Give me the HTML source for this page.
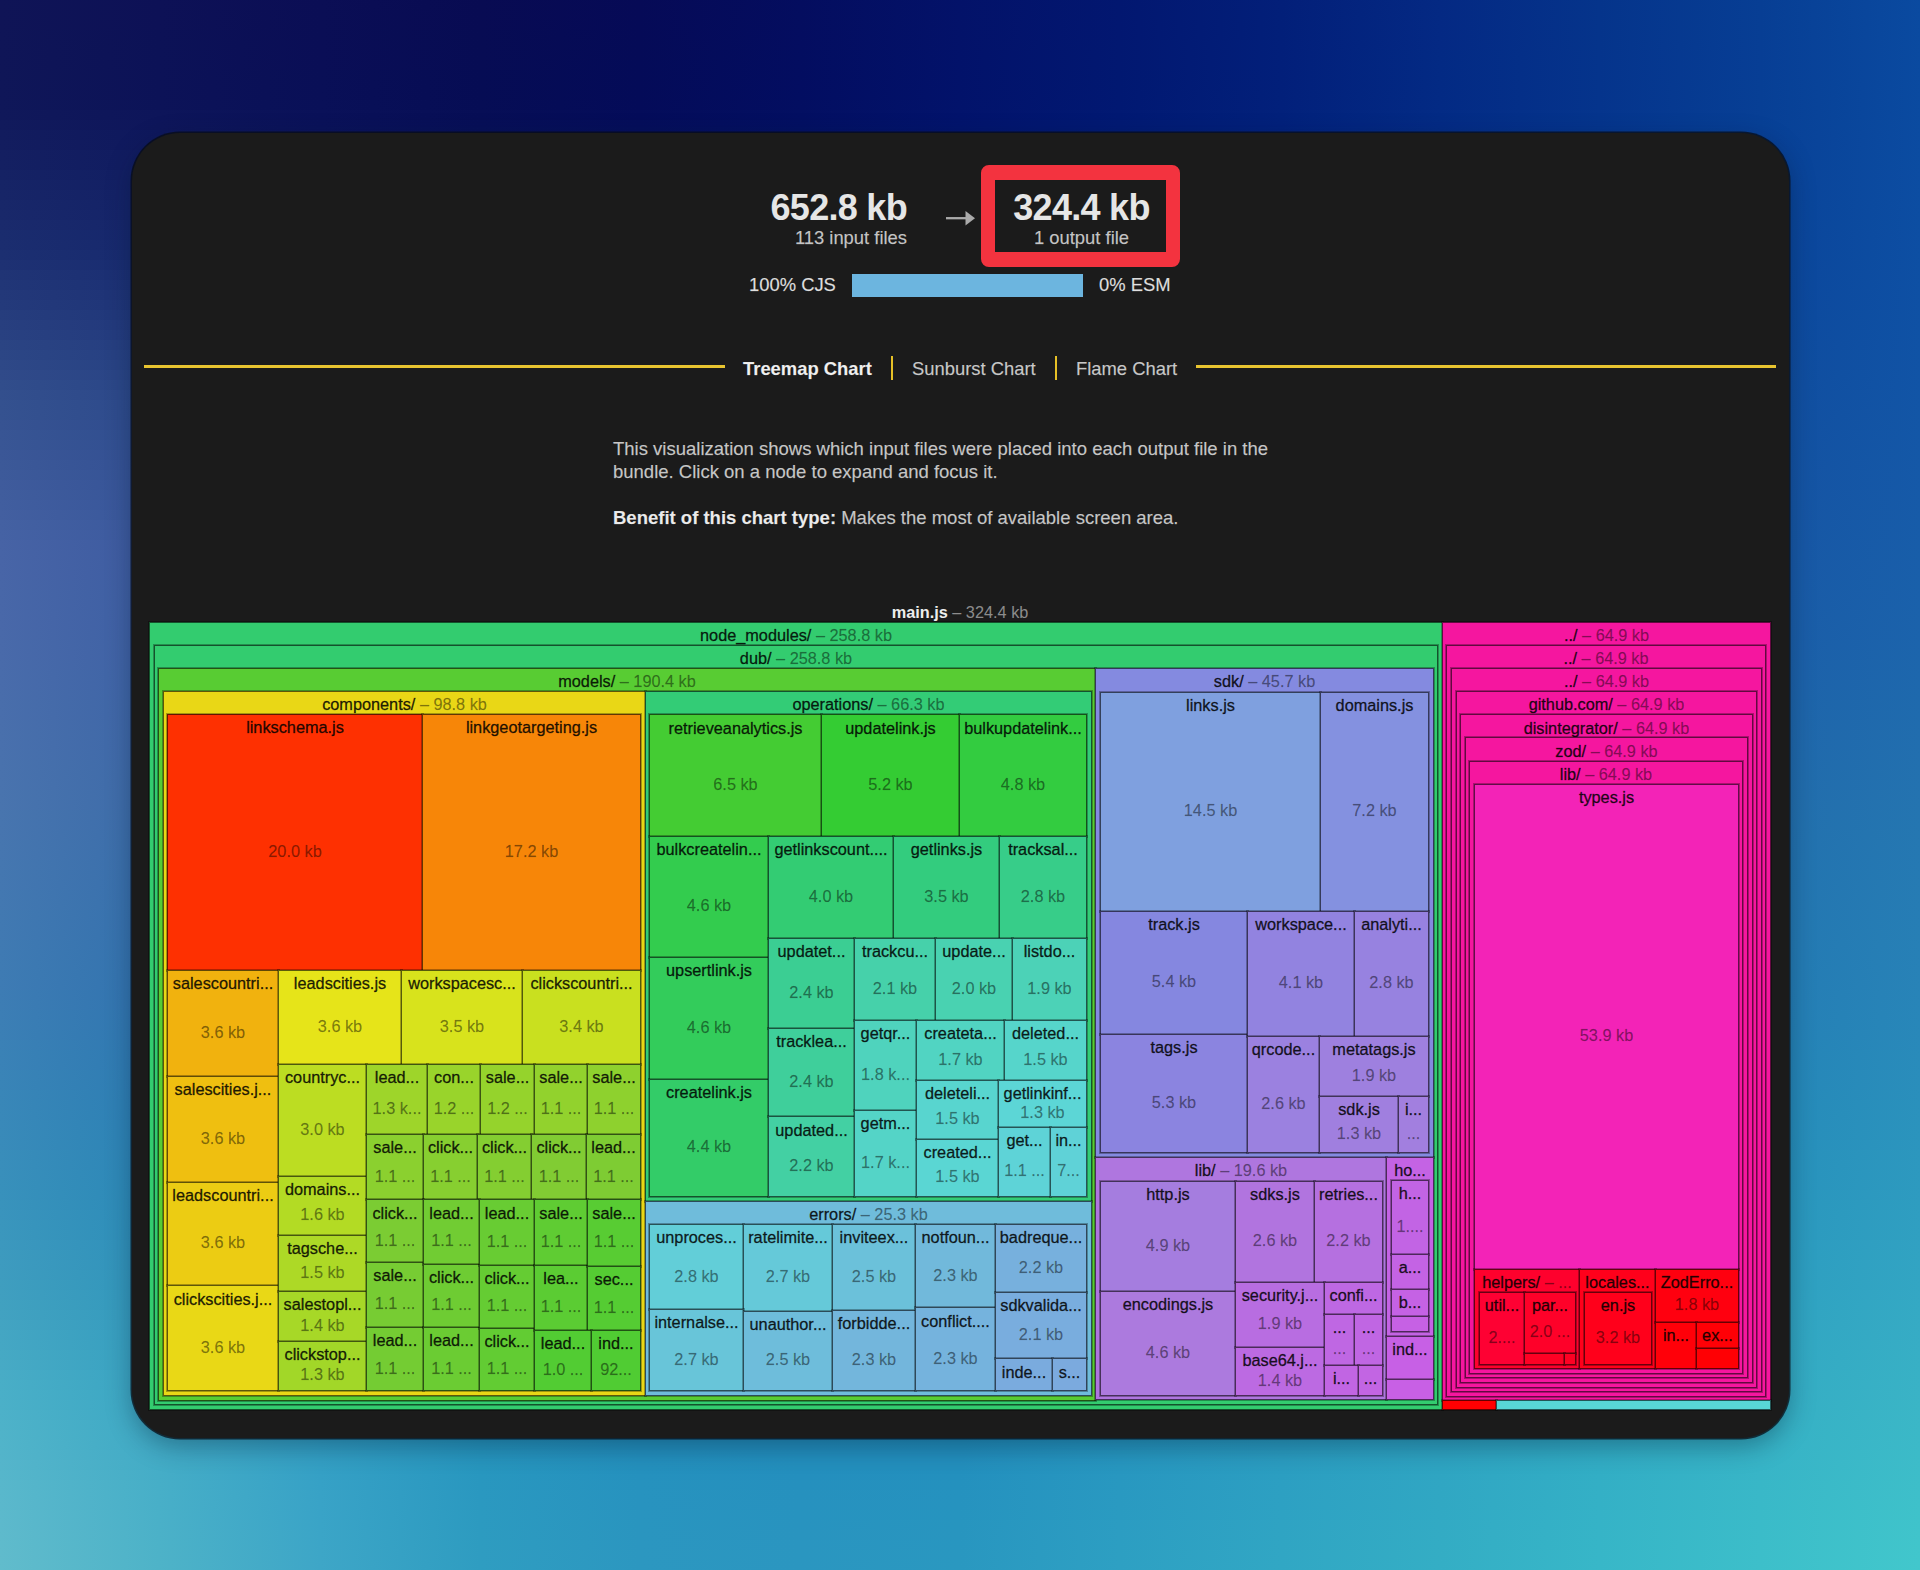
<!DOCTYPE html>
<html>
<head>
<meta charset="utf-8">
<title>esbuild Bundle Size Analyzer</title>
<style>
html,body{margin:0;padding:0}
body{width:1920px;height:1570px;position:relative;overflow:hidden;font-family:"Liberation Sans",Arial,sans-serif;background:#2a6aa8}
.bg div{position:absolute;left:0;width:1920px;height:10px}
.card{position:absolute;left:132px;top:133px;width:1657px;height:1305px;background:#1b1b1b;border-radius:48px;
 box-shadow:0 0 0 1.5px rgba(8,12,20,0.75),0 8px 26px rgba(0,20,40,0.35)}
.t{position:absolute;white-space:nowrap;line-height:1}
.big{font-weight:bold;font-size:36px;letter-spacing:-0.7px;color:#e6e6e6}
.sub{font-size:18.4px;color:#c4c4c4;-webkit-text-stroke:0.25px rgba(196,196,196,0.6)}
.redbox{position:absolute;left:981.3px;top:165.2px;width:170.6px;height:72.3px;border-style:solid;border-color:#f3333f;border-width:15px 14.5px 15.5px 14.5px;border-radius:8px}
.bar{position:absolute;left:852px;top:274px;width:231px;height:23px;background:#6cb5df}
.line{position:absolute;height:2.5px;background:#e8c430;top:365.4px}
.sep{position:absolute;width:2.5px;background:#e6c026;top:355.5px;height:24px}
.tab{font-size:18.4px;color:#c8c8c8;-webkit-text-stroke:0.25px rgba(200,200,200,0.6)}
.desc{font-size:18.5px;color:#c6c6c6;-webkit-text-stroke:0.25px rgba(198,198,198,0.6)}
.n{position:absolute;box-sizing:border-box;border:1px solid;box-shadow:0 0 0 1px rgba(0,0,0,0.3)}
.n b{position:absolute;left:0;right:0;text-align:center;white-space:nowrap;font-weight:normal;font-size:16.3px;line-height:19px;color:rgba(0,0,0,0.86);-webkit-text-stroke:0.45px rgba(0,0,0,0.55)}
.n b.s,.n i{color:rgba(0,0,0,0.45);font-style:normal;-webkit-text-stroke:0.35px rgba(0,0,0,0.22)}
.root{position:absolute;left:150px;width:1620px;top:603px;text-align:center;font-size:16.3px;line-height:19px;white-space:nowrap}
</style>
</head>
<body>
<div class="bg">
<div style="top:0px;background:linear-gradient(90deg,#0f1456 0.0%,#0d1156 8.3%,#0b0e55 16.7%,#080b52 25.0%,#060a56 33.3%,#040d5f 41.7%,#031269 50.0%,#021770 58.3%,#031f79 66.7%,#042983 75.0%,#05348b 83.3%,#073e94 91.7%,#0a4aa0 100.0%)"></div>
<div style="top:10px;background:linear-gradient(90deg,#0f1456 0.0%,#0d1156 8.3%,#0a0e55 16.7%,#080b53 25.0%,#060a57 33.3%,#040d5f 41.7%,#031269 50.0%,#021770 58.3%,#021f79 66.7%,#042983 75.0%,#05348b 83.3%,#073e94 91.7%,#0a4aa0 100.0%)"></div>
<div style="top:20px;background:linear-gradient(90deg,#0f1456 0.0%,#0d1156 8.3%,#0a0e55 16.7%,#080b53 25.0%,#050a57 33.3%,#040d5f 41.7%,#031269 50.0%,#021771 58.3%,#021f79 66.7%,#042984 75.0%,#05348b 83.3%,#073e94 91.7%,#0a4aa0 100.0%)"></div>
<div style="top:30px;background:linear-gradient(90deg,#0f1557 0.0%,#0c1156 8.3%,#0a0e55 16.7%,#070c53 25.0%,#050a57 33.3%,#040d60 41.7%,#031269 50.0%,#021771 58.3%,#021f79 66.7%,#042984 75.0%,#05348b 83.3%,#073e94 91.7%,#0a4aa0 100.0%)"></div>
<div style="top:40px;background:linear-gradient(90deg,#0f1557 0.0%,#0c1256 8.3%,#0a0e56 16.7%,#070c53 25.0%,#050b57 33.3%,#040d60 41.7%,#031269 50.0%,#021871 58.3%,#021f7a 66.7%,#042984 75.0%,#05348b 83.3%,#073e95 91.7%,#0a4aa0 100.0%)"></div>
<div style="top:50px;background:linear-gradient(90deg,#0f1557 0.0%,#0c1257 8.3%,#0a0e56 16.7%,#070c54 25.0%,#050b57 33.3%,#030d60 41.7%,#02126a 50.0%,#021871 58.3%,#021f7a 66.7%,#032a84 75.0%,#05348c 83.3%,#073e95 91.7%,#0a4aa0 100.0%)"></div>
<div style="top:60px;background:linear-gradient(90deg,#0f1557 0.0%,#0c1257 8.3%,#0a0e56 16.7%,#070c54 25.0%,#040b58 33.3%,#030d60 41.7%,#02126a 50.0%,#021871 58.3%,#021f7a 66.7%,#032a84 75.0%,#05348c 83.3%,#073e95 91.7%,#0a4aa0 100.0%)"></div>
<div style="top:70px;background:linear-gradient(90deg,#0f1657 0.0%,#0c1257 8.3%,#090f56 16.7%,#060c54 25.0%,#040b58 33.3%,#030d60 41.7%,#02126a 50.0%,#011871 58.3%,#021f7a 66.7%,#032a84 75.0%,#05348c 83.3%,#073e95 91.7%,#0a4aa0 100.0%)"></div>
<div style="top:80px;background:linear-gradient(90deg,#0f1658 0.0%,#0c1257 8.3%,#090f57 16.7%,#060c54 25.0%,#040b58 33.3%,#030d61 41.7%,#02126a 50.0%,#011871 58.3%,#021f7a 66.7%,#032a84 75.0%,#05348c 83.3%,#073f95 91.7%,#0a4aa0 100.0%)"></div>
<div style="top:90px;background:linear-gradient(90deg,#0f1658 0.0%,#0c1257 8.3%,#090f57 16.7%,#060c54 25.0%,#040b58 33.3%,#020d61 41.7%,#02126a 50.0%,#011872 58.3%,#02207a 66.7%,#032a84 75.0%,#05348c 83.3%,#073f95 91.7%,#0a4aa0 100.0%)"></div>
<div style="top:100px;background:linear-gradient(90deg,#0f1759 0.0%,#0c1358 8.3%,#091058 16.7%,#060d55 25.0%,#040b59 33.3%,#030e61 41.7%,#02136b 50.0%,#011872 58.3%,#02207b 66.7%,#032a84 75.0%,#05348c 83.3%,#073f95 91.7%,#0a4aa0 100.0%)"></div>
<div style="top:110px;background:linear-gradient(90deg,#10185a 0.0%,#0d155a 8.3%,#0a1159 16.7%,#070e56 25.0%,#040c5a 33.3%,#030f62 41.7%,#02136c 50.0%,#011973 58.3%,#02217b 66.7%,#032b85 75.0%,#05358d 83.3%,#073f95 91.7%,#0a4aa0 100.0%)"></div>
<div style="top:120px;background:linear-gradient(90deg,#111a5c 0.0%,#0e165b 8.3%,#0a125a 16.7%,#070f58 25.0%,#050e5b 33.3%,#031063 41.7%,#02146d 50.0%,#021a74 58.3%,#02217c 66.7%,#042b85 75.0%,#05358d 83.3%,#074096 91.7%,#0b4ba0 100.0%)"></div>
<div style="top:130px;background:linear-gradient(90deg,#121c5e 0.0%,#0e185d 8.3%,#0b145c 16.7%,#071059 25.0%,#050f5d 33.3%,#041165 41.7%,#03156d 50.0%,#021b74 58.3%,#03227d 66.7%,#042c86 75.0%,#05368d 83.3%,#084096 91.7%,#0b4ba1 100.0%)"></div>
<div style="top:140px;background:linear-gradient(90deg,#131d5f 0.0%,#0f195e 8.3%,#0b155d 16.7%,#08115a 25.0%,#05105e 33.3%,#041266 41.7%,#03166e 50.0%,#021b75 58.3%,#03237d 66.7%,#042c87 75.0%,#06368e 83.3%,#084096 91.7%,#0b4ba1 100.0%)"></div>
<div style="top:150px;background:linear-gradient(90deg,#141f61 0.0%,#101b60 8.3%,#0c165f 16.7%,#08135c 25.0%,#06115f 33.3%,#041367 41.7%,#03176f 50.0%,#031c76 58.3%,#03237e 66.7%,#052d87 75.0%,#06378e 83.3%,#084197 91.7%,#0b4ca1 100.0%)"></div>
<div style="top:160px;background:linear-gradient(90deg,#142062 0.0%,#101c61 8.3%,#0d1860 16.7%,#09145d 25.0%,#061260 33.3%,#051468 41.7%,#041870 50.0%,#031d77 58.3%,#03247f 66.7%,#052e88 75.0%,#06378f 83.3%,#084197 91.7%,#0b4ca1 100.0%)"></div>
<div style="top:170px;background:linear-gradient(90deg,#152264 0.0%,#111e63 8.3%,#0d1962 16.7%,#09155e 25.0%,#071361 33.3%,#051569 41.7%,#041971 50.0%,#031e78 58.3%,#04257f 66.7%,#052e88 75.0%,#06388f 83.3%,#094297 91.7%,#0c4ca2 100.0%)"></div>
<div style="top:180px;background:linear-gradient(90deg,#162466 0.0%,#121f64 8.3%,#0e1a63 16.7%,#0a1660 25.0%,#071463 33.3%,#05166a 41.7%,#041a72 50.0%,#041f79 58.3%,#042680 66.7%,#052f89 75.0%,#073890 83.3%,#094298 91.7%,#0c4da2 100.0%)"></div>
<div style="top:190px;background:linear-gradient(90deg,#172567 0.0%,#132166 8.3%,#0e1c64 16.7%,#0a1761 25.0%,#071564 33.3%,#06176b 41.7%,#051a73 50.0%,#041f79 58.3%,#042681 66.7%,#062f89 75.0%,#073990 83.3%,#094298 91.7%,#0c4da2 100.0%)"></div>
<div style="top:200px;background:linear-gradient(90deg,#182769 0.0%,#132267 8.3%,#0f1d66 16.7%,#0b1962 25.0%,#081665 33.3%,#06186c 41.7%,#051b74 50.0%,#04207a 58.3%,#052782 66.7%,#06308a 75.0%,#073991 83.3%,#094398 91.7%,#0c4da2 100.0%)"></div>
<div style="top:210px;background:linear-gradient(90deg,#19286a 0.0%,#142369 8.3%,#0f1e67 16.7%,#0b1a64 25.0%,#081766 33.3%,#07196d 41.7%,#051c75 50.0%,#05217b 58.3%,#052882 66.7%,#06318b 75.0%,#073a91 83.3%,#094399 91.7%,#0c4da2 100.0%)"></div>
<div style="top:220px;background:linear-gradient(90deg,#1a2a6c 0.0%,#15256a 8.3%,#102069 16.7%,#0c1b65 25.0%,#091867 33.3%,#071a6e 41.7%,#061d76 50.0%,#05227c 58.3%,#052883 66.7%,#06318b 75.0%,#083a92 83.3%,#0a4499 91.7%,#0c4ea2 100.0%)"></div>
<div style="top:230px;background:linear-gradient(90deg,#1a2c6e 0.0%,#15266c 8.3%,#11216a 16.7%,#0c1c66 25.0%,#091a69 33.3%,#071b6f 41.7%,#061e77 50.0%,#05237d 58.3%,#062984 66.7%,#07328c 75.0%,#083b92 83.3%,#0a4499 91.7%,#0d4ea3 100.0%)"></div>
<div style="top:240px;background:linear-gradient(90deg,#1b2d6f 0.0%,#16286d 8.3%,#11226c 16.7%,#0c1d68 25.0%,#0a1b6a 33.3%,#081c70 41.7%,#061f78 50.0%,#06237e 58.3%,#062a84 66.7%,#07328c 75.0%,#083b93 83.3%,#0a449a 91.7%,#0d4ea3 100.0%)"></div>
<div style="top:250px;background:linear-gradient(90deg,#1c2f71 0.0%,#172a6f 8.3%,#12246d 16.7%,#0d1f69 25.0%,#0a1c6b 33.3%,#081d72 41.7%,#072079 50.0%,#06247f 58.3%,#062b85 66.7%,#07338d 75.0%,#083c93 83.3%,#0a459a 91.7%,#0d4fa3 100.0%)"></div>
<div style="top:260px;background:linear-gradient(90deg,#1e3173 0.0%,#182c71 8.3%,#13266f 16.7%,#0e216b 25.0%,#0b1d6d 33.3%,#091e73 41.7%,#08217a 50.0%,#072580 58.3%,#072c86 66.7%,#08348e 75.0%,#093d94 83.3%,#0b459a 91.7%,#0d4fa3 100.0%)"></div>
<div style="top:270px;background:linear-gradient(90deg,#203475 0.0%,#1a2e73 8.3%,#142871 16.7%,#0f226c 25.0%,#0c1f6e 33.3%,#0a1f74 41.7%,#08227b 50.0%,#072681 58.3%,#072c87 66.7%,#08358e 75.0%,#093d94 83.3%,#0b469b 91.7%,#0e4fa3 100.0%)"></div>
<div style="top:280px;background:linear-gradient(90deg,#213677 0.0%,#1b3075 8.3%,#162972 16.7%,#10246e 25.0%,#0d2170 33.3%,#0b2176 41.7%,#09237c 50.0%,#082782 58.3%,#082d88 66.7%,#09358f 75.0%,#0a3e95 83.3%,#0b469b 91.7%,#0e50a4 100.0%)"></div>
<div style="top:290px;background:linear-gradient(90deg,#233879 0.0%,#1d3276 8.3%,#172b74 16.7%,#112670 25.0%,#0e2271 33.3%,#0b2277 41.7%,#0a257d 50.0%,#092983 58.3%,#082e89 66.7%,#093690 75.0%,#0a3e95 83.3%,#0c479c 91.7%,#0e50a4 100.0%)"></div>
<div style="top:300px;background:linear-gradient(90deg,#243a7b 0.0%,#1e3478 8.3%,#182d76 16.7%,#122771 25.0%,#0f2473 33.3%,#0c2478 41.7%,#0a267f 50.0%,#092a84 58.3%,#092f89 66.7%,#0a3790 75.0%,#0a3f96 83.3%,#0c479c 91.7%,#0e50a4 100.0%)"></div>
<div style="top:310px;background:linear-gradient(90deg,#263d7d 0.0%,#1f367a 8.3%,#192f78 16.7%,#132973 25.0%,#102574 33.3%,#0d257a 41.7%,#0b2780 50.0%,#0a2b85 58.3%,#0a308a 66.7%,#0a3891 75.0%,#0b4096 83.3%,#0c489c 91.7%,#0f51a4 100.0%)"></div>
<div style="top:320px;background:linear-gradient(90deg,#283f7f 0.0%,#21387c 8.3%,#1a3179 16.7%,#142b74 25.0%,#112776 33.3%,#0e267b 41.7%,#0c2881 50.0%,#0b2c86 58.3%,#0a318b 66.7%,#0b3992 75.0%,#0b4197 83.3%,#0d499d 91.7%,#0f51a4 100.0%)"></div>
<div style="top:330px;background:linear-gradient(90deg,#294181 0.0%,#223a7e 8.3%,#1c337b 16.7%,#152d76 25.0%,#122877 33.3%,#0f287c 41.7%,#0d2a82 50.0%,#0c2d87 58.3%,#0b338c 66.7%,#0c3a92 75.0%,#0c4197 83.3%,#0d499d 91.7%,#0f52a5 100.0%)"></div>
<div style="top:340px;background:linear-gradient(90deg,#2b4483 0.0%,#243d80 8.3%,#1d357d 16.7%,#162e78 25.0%,#132a79 33.3%,#10297d 41.7%,#0e2b83 50.0%,#0c2e88 58.3%,#0c348d 66.7%,#0c3b93 75.0%,#0d4298 83.3%,#0e4a9d 91.7%,#1052a5 100.0%)"></div>
<div style="top:350px;background:linear-gradient(90deg,#2c4685 0.0%,#253f82 8.3%,#1e377f 16.7%,#183079 25.0%,#142c7a 33.3%,#112b7f 41.7%,#0e2c84 50.0%,#0d3089 58.3%,#0c358e 66.7%,#0d3c94 75.0%,#0d4398 83.3%,#0e4b9e 91.7%,#1053a5 100.0%)"></div>
<div style="top:360px;background:linear-gradient(90deg,#2e4887 0.0%,#264183 8.3%,#1f3980 16.7%,#19327b 25.0%,#152d7c 33.3%,#122c80 41.7%,#0f2e85 50.0%,#0e318a 58.3%,#0d368e 66.7%,#0d3d94 75.0%,#0e4499 83.3%,#0f4b9e 91.7%,#1153a5 100.0%)"></div>
<div style="top:370px;background:linear-gradient(90deg,#304a89 0.0%,#284385 8.3%,#213b82 16.7%,#1a347d 25.0%,#152f7d 33.3%,#132e81 41.7%,#102f87 50.0%,#0e328b 58.3%,#0e378f 66.7%,#0e3d95 75.0%,#0e4599 83.3%,#0f4c9e 91.7%,#1154a6 100.0%)"></div>
<div style="top:380px;background:linear-gradient(90deg,#314d8b 0.0%,#294587 8.3%,#223d84 16.7%,#1b357e 25.0%,#16307e 33.3%,#132f83 41.7%,#113088 50.0%,#0f338c 58.3%,#0f3890 66.7%,#0f3e96 75.0%,#0f459a 83.3%,#104d9f 91.7%,#1154a6 100.0%)"></div>
<div style="top:390px;background:linear-gradient(90deg,#334f8d 0.0%,#2b4789 8.3%,#233f86 16.7%,#1c3780 25.0%,#173280 33.3%,#143184 41.7%,#123289 50.0%,#10348d 58.3%,#0f3991 66.7%,#0f3f96 75.0%,#0f469a 83.3%,#104d9f 91.7%,#1255a6 100.0%)"></div>
<div style="top:400px;background:linear-gradient(90deg,#34518f 0.0%,#2c498b 8.3%,#244087 16.7%,#1d3981 25.0%,#183381 33.3%,#153285 41.7%,#12338a 50.0%,#11358d 58.3%,#103a92 66.7%,#104097 75.0%,#10479b 83.3%,#114ea0 91.7%,#1255a6 100.0%)"></div>
<div style="top:410px;background:linear-gradient(90deg,#355290 0.0%,#2d4a8c 8.3%,#254189 16.7%,#1e3a83 25.0%,#193483 33.3%,#163386 41.7%,#13338b 50.0%,#11368e 58.3%,#103b92 66.7%,#104197 75.0%,#10489b 83.3%,#114ea0 91.7%,#1356a6 100.0%)"></div>
<div style="top:420px;background:linear-gradient(90deg,#375392 0.0%,#2e4b8e 8.3%,#26428a 16.7%,#1e3b84 25.0%,#1a3584 33.3%,#173487 41.7%,#14348c 50.0%,#12378f 58.3%,#113b93 66.7%,#114198 75.0%,#11489c 83.3%,#114fa0 91.7%,#1356a6 100.0%)"></div>
<div style="top:430px;background:linear-gradient(90deg,#385594 0.0%,#2f4d8f 8.3%,#27448c 16.7%,#1f3c85 25.0%,#1b3685 33.3%,#173588 41.7%,#14358d 50.0%,#133890 58.3%,#123c94 66.7%,#114299 75.0%,#11499c 83.3%,#124fa1 91.7%,#1357a7 100.0%)"></div>
<div style="top:440px;background:linear-gradient(90deg,#395695 0.0%,#304e91 8.3%,#28458d 16.7%,#203d87 25.0%,#1b3786 33.3%,#18358a 41.7%,#15368e 50.0%,#133991 58.3%,#123d95 66.7%,#124399 75.0%,#12499d 83.3%,#1250a1 91.7%,#1457a7 100.0%)"></div>
<div style="top:450px;background:linear-gradient(90deg,#3b5797 0.0%,#324f92 8.3%,#29468e 16.7%,#213e88 25.0%,#1c3887 33.3%,#19368b 41.7%,#16378f 50.0%,#143992 58.3%,#133e95 66.7%,#12449a 75.0%,#124a9d 83.3%,#1351a1 91.7%,#1458a7 100.0%)"></div>
<div style="top:460px;background:linear-gradient(90deg,#3c5998 0.0%,#335094 8.3%,#2a4790 16.7%,#223f89 25.0%,#1d3989 33.3%,#19378c 41.7%,#16388f 50.0%,#143a92 58.3%,#133e96 66.7%,#13449a 75.0%,#134b9e 83.3%,#1351a2 91.7%,#1558a7 100.0%)"></div>
<div style="top:470px;background:linear-gradient(90deg,#3d5a9a 0.0%,#345295 8.3%,#2b4891 16.7%,#23408b 25.0%,#1e3a8a 33.3%,#1a388d 41.7%,#173890 50.0%,#153b93 58.3%,#143f97 66.7%,#14459b 75.0%,#134b9e 83.3%,#1452a2 91.7%,#1559a8 100.0%)"></div>
<div style="top:480px;background:linear-gradient(90deg,#3f5b9c 0.0%,#355397 8.3%,#2c4993 16.7%,#24418c 25.0%,#1f3b8b 33.3%,#1b398e 41.7%,#183991 50.0%,#163c94 58.3%,#154097 66.7%,#14469b 75.0%,#144c9f 83.3%,#1452a2 91.7%,#1559a8 100.0%)"></div>
<div style="top:490px;background:linear-gradient(90deg,#405d9d 0.0%,#365498 8.3%,#2d4a94 16.7%,#24428d 25.0%,#1f3c8c 33.3%,#1c3a8f 41.7%,#183a92 50.0%,#163d95 58.3%,#154198 66.7%,#15469c 75.0%,#144d9f 83.3%,#1553a3 91.7%,#165aa8 100.0%)"></div>
<div style="top:500px;background:linear-gradient(90deg,#415e9f 0.0%,#37559a 8.3%,#2e4c96 16.7%,#25438e 25.0%,#203d8d 33.3%,#1c3b90 41.7%,#193b93 50.0%,#173d96 58.3%,#164199 66.7%,#15479d 75.0%,#154da0 83.3%,#1554a3 91.7%,#165aa8 100.0%)"></div>
<div style="top:510px;background:linear-gradient(90deg,#435fa0 0.0%,#38579b 8.3%,#2f4d97 16.7%,#264490 25.0%,#213e8f 33.3%,#1d3c91 41.7%,#1a3c94 50.0%,#183e97 58.3%,#16429a 66.7%,#16489d 75.0%,#154ea0 83.3%,#1654a3 91.7%,#175ba8 100.0%)"></div>
<div style="top:520px;background:linear-gradient(90deg,#4461a2 0.0%,#3a589d 8.3%,#304e98 16.7%,#274591 25.0%,#223f90 33.3%,#1e3d92 41.7%,#1a3d95 50.0%,#183f98 58.3%,#17439a 66.7%,#16499e 75.0%,#164fa1 83.3%,#1655a4 91.7%,#175ca9 100.0%)"></div>
<div style="top:530px;background:linear-gradient(90deg,#4562a4 0.0%,#3b599e 8.3%,#314f9a 16.7%,#284692 25.0%,#234091 33.3%,#1f3e93 41.7%,#1b3e96 50.0%,#194098 58.3%,#18449b 66.7%,#17499e 75.0%,#1650a1 83.3%,#1656a4 91.7%,#175ca9 100.0%)"></div>
<div style="top:540px;background:linear-gradient(90deg,#4763a5 0.0%,#3c5aa0 8.3%,#32509b 16.7%,#294894 25.0%,#234192 33.3%,#1f3f94 41.7%,#1c3f97 50.0%,#1a4199 58.3%,#18459c 66.7%,#174a9f 75.0%,#1750a2 83.3%,#1756a5 91.7%,#185da9 100.0%)"></div>
<div style="top:550px;background:linear-gradient(90deg,#4764a6 0.0%,#3d5ba1 8.3%,#33519c 16.7%,#294895 25.0%,#244293 33.3%,#204095 41.7%,#1c3f98 50.0%,#1a429a 58.3%,#19469c 66.7%,#184ba0 75.0%,#1751a2 83.3%,#1757a5 91.7%,#185ea9 100.0%)"></div>
<div style="top:560px;background:linear-gradient(90deg,#4865a7 0.0%,#3d5ca1 8.3%,#33529d 16.7%,#294995 25.0%,#244394 33.3%,#204096 41.7%,#1c4098 50.0%,#1a429a 58.3%,#19469d 66.7%,#184ca0 75.0%,#1752a2 83.3%,#1858a5 91.7%,#195eaa 100.0%)"></div>
<div style="top:570px;background:linear-gradient(90deg,#4865a7 0.0%,#3d5ca2 8.3%,#33529d 16.7%,#294996 25.0%,#244394 33.3%,#204196 41.7%,#1c4099 50.0%,#1a439b 58.3%,#19479d 66.7%,#184ca0 75.0%,#1852a3 83.3%,#1858a6 91.7%,#195faa 100.0%)"></div>
<div style="top:580px;background:linear-gradient(90deg,#4866a7 0.0%,#3d5da2 8.3%,#33539e 16.7%,#294a96 25.0%,#244495 33.3%,#204196 41.7%,#1c4199 50.0%,#1a449b 58.3%,#19479d 66.7%,#194da1 75.0%,#1853a3 83.3%,#1859a6 91.7%,#1960aa 100.0%)"></div>
<div style="top:590px;background:linear-gradient(90deg,#4867a8 0.0%,#3d5ea2 8.3%,#33539e 16.7%,#294b96 25.0%,#244495 33.3%,#204297 41.7%,#1c4299 50.0%,#1b449b 58.3%,#19489e 66.7%,#194da1 75.0%,#1854a3 83.3%,#195aa6 91.7%,#1a60ab 100.0%)"></div>
<div style="top:600px;background:linear-gradient(90deg,#4867a8 0.0%,#3d5ea3 8.3%,#33549e 16.7%,#294b97 25.0%,#244595 33.3%,#204297 41.7%,#1c429a 50.0%,#1b459c 58.3%,#1a499e 66.7%,#194ea1 75.0%,#1954a4 83.3%,#195aa6 91.7%,#1a61ab 100.0%)"></div>
<div style="top:610px;background:linear-gradient(90deg,#4968a9 0.0%,#3d5fa3 8.3%,#33549f 16.7%,#294c97 25.0%,#244596 33.3%,#204398 41.7%,#1c439a 50.0%,#1b459c 58.3%,#1a499e 66.7%,#194fa1 75.0%,#1955a4 83.3%,#195ba7 91.7%,#1b62ab 100.0%)"></div>
<div style="top:620px;background:linear-gradient(90deg,#4968a9 0.0%,#3d5fa4 8.3%,#33559f 16.7%,#294c98 25.0%,#244696 33.3%,#204398 41.7%,#1d439a 50.0%,#1b469c 58.3%,#1a4a9f 66.7%,#1a4fa2 75.0%,#1956a4 83.3%,#1a5ca7 91.7%,#1b62ab 100.0%)"></div>
<div style="top:630px;background:linear-gradient(90deg,#4969a9 0.0%,#3d60a4 8.3%,#3356a0 16.7%,#294d98 25.0%,#244697 33.3%,#204498 41.7%,#1d449b 50.0%,#1b479d 58.3%,#1a4b9f 66.7%,#1a50a2 75.0%,#1956a5 83.3%,#1a5ca7 91.7%,#1b63ac 100.0%)"></div>
<div style="top:640px;background:linear-gradient(90deg,#496aaa 0.0%,#3e61a4 8.3%,#3356a0 16.7%,#294d99 25.0%,#244797 33.3%,#204499 41.7%,#1d449b 50.0%,#1b479d 58.3%,#1a4ba0 66.7%,#1a51a2 75.0%,#1a57a5 83.3%,#1a5da8 91.7%,#1c64ac 100.0%)"></div>
<div style="top:650px;background:linear-gradient(90deg,#496aaa 0.0%,#3e61a5 8.3%,#3357a1 16.7%,#294e99 25.0%,#244798 33.3%,#204599 41.7%,#1d459c 50.0%,#1c489e 58.3%,#1b4ca0 66.7%,#1a51a3 75.0%,#1a58a5 83.3%,#1b5ea8 91.7%,#1c65ac 100.0%)"></div>
<div style="top:660px;background:linear-gradient(90deg,#496baa 0.0%,#3e62a5 8.3%,#3357a1 16.7%,#294f99 25.0%,#244898 33.3%,#20469a 41.7%,#1d469c 50.0%,#1c499e 58.3%,#1b4da0 66.7%,#1b52a3 75.0%,#1a59a5 83.3%,#1b5fa8 91.7%,#1d66ac 100.0%)"></div>
<div style="top:670px;background:linear-gradient(90deg,#496cab 0.0%,#3d63a5 8.3%,#3358a1 16.7%,#294f9a 25.0%,#244998 33.3%,#20479a 41.7%,#1d479c 50.0%,#1c4a9e 58.3%,#1b4ea0 66.7%,#1b53a3 75.0%,#1b5aa6 83.3%,#1c60a9 91.7%,#1d67ad 100.0%)"></div>
<div style="top:680px;background:linear-gradient(90deg,#496cab 0.0%,#3d63a6 8.3%,#3359a1 16.7%,#29509a 25.0%,#244a99 33.3%,#20479a 41.7%,#1d479c 50.0%,#1c4b9f 58.3%,#1b4fa1 66.7%,#1b54a4 75.0%,#1b5ba6 83.3%,#1c61a9 91.7%,#1e68ad 100.0%)"></div>
<div style="top:690px;background:linear-gradient(90deg,#496dab 0.0%,#3d64a6 8.3%,#335aa2 16.7%,#29519a 25.0%,#244a99 33.3%,#20489b 41.7%,#1d489d 50.0%,#1c4b9f 58.3%,#1c50a1 66.7%,#1c55a4 75.0%,#1c5ca6 83.3%,#1d62a9 91.7%,#1e69ad 100.0%)"></div>
<div style="top:700px;background:linear-gradient(90deg,#496eab 0.0%,#3d65a6 8.3%,#325aa2 16.7%,#29519b 25.0%,#244b99 33.3%,#20499b 41.7%,#1d499d 50.0%,#1c4c9f 58.3%,#1c50a1 66.7%,#1c56a4 75.0%,#1c5da7 83.3%,#1d63a9 91.7%,#1f6aad 100.0%)"></div>
<div style="top:710px;background:linear-gradient(90deg,#496eac 0.0%,#3d65a6 8.3%,#325ba2 16.7%,#28529b 25.0%,#244c9a 33.3%,#204a9b 41.7%,#1d4a9d 50.0%,#1c4d9f 58.3%,#1c51a2 66.7%,#1c57a4 75.0%,#1c5ea7 83.3%,#1e64aa 91.7%,#1f6bae 100.0%)"></div>
<div style="top:720px;background:linear-gradient(90deg,#496fac 0.0%,#3d66a7 8.3%,#325ca3 16.7%,#28539b 25.0%,#244d9a 33.3%,#204a9c 41.7%,#1d4a9e 50.0%,#1d4ea0 58.3%,#1c52a2 66.7%,#1d58a5 75.0%,#1d5fa7 83.3%,#1e65aa 91.7%,#206cae 100.0%)"></div>
<div style="top:730px;background:linear-gradient(90deg,#4970ac 0.0%,#3d67a7 8.3%,#325ca3 16.7%,#28539c 25.0%,#244d9a 33.3%,#204b9c 41.7%,#1d4b9e 50.0%,#1d4fa0 58.3%,#1d53a2 66.7%,#1d59a5 75.0%,#1d60a8 83.3%,#1f66aa 91.7%,#216dae 100.0%)"></div>
<div style="top:740px;background:linear-gradient(90deg,#4970ad 0.0%,#3d67a7 8.3%,#325da3 16.7%,#28549c 25.0%,#244e9b 33.3%,#204c9c 41.7%,#1d4c9e 50.0%,#1d50a0 58.3%,#1d54a3 66.7%,#1d5aa5 75.0%,#1d61a8 83.3%,#1f67ab 91.7%,#216eaf 100.0%)"></div>
<div style="top:750px;background:linear-gradient(90deg,#4971ad 0.0%,#3d68a8 8.3%,#325ea4 16.7%,#28559c 25.0%,#234f9b 33.3%,#204d9d 41.7%,#1d4d9f 50.0%,#1d50a1 58.3%,#1d55a3 66.7%,#1d5ba6 75.0%,#1e62a8 83.3%,#1f68ab 91.7%,#226faf 100.0%)"></div>
<div style="top:760px;background:linear-gradient(90deg,#4972ad 0.0%,#3d69a8 8.3%,#325ea4 16.7%,#28559d 25.0%,#234f9b 33.3%,#204d9d 41.7%,#1e4e9f 50.0%,#1d51a1 58.3%,#1d56a3 66.7%,#1e5ca6 75.0%,#1e63a8 83.3%,#2069ab 91.7%,#2270af 100.0%)"></div>
<div style="top:770px;background:linear-gradient(90deg,#4972ad 0.0%,#3d6aa8 8.3%,#325fa4 16.7%,#28569d 25.0%,#23509c 33.3%,#204e9d 41.7%,#1e4e9f 50.0%,#1d52a1 58.3%,#1e57a4 66.7%,#1e5da6 75.0%,#1f64a9 83.3%,#206aab 91.7%,#2371af 100.0%)"></div>
<div style="top:780px;background:linear-gradient(90deg,#4973ae 0.0%,#3d6aa8 8.3%,#3260a5 16.7%,#28579d 25.0%,#23519c 33.3%,#204f9e 41.7%,#1e4fa0 50.0%,#1e53a2 58.3%,#1e58a4 66.7%,#1e5ea6 75.0%,#1f65a9 83.3%,#216bac 91.7%,#2372b0 100.0%)"></div>
<div style="top:790px;background:linear-gradient(90deg,#4974ae 0.0%,#3d6ba9 8.3%,#3260a5 16.7%,#28589e 25.0%,#23529c 33.3%,#20509e 41.7%,#1e50a0 50.0%,#1e54a2 58.3%,#1e59a4 66.7%,#1f5fa7 75.0%,#1f66a9 83.3%,#216cac 91.7%,#2473b0 100.0%)"></div>
<div style="top:800px;background:linear-gradient(90deg,#4974ae 0.0%,#3c6ba9 8.3%,#3161a5 16.7%,#27589e 25.0%,#23529d 33.3%,#20509e 41.7%,#1e51a0 50.0%,#1e55a2 58.3%,#1e59a4 66.7%,#1f5fa7 75.0%,#2067aa 83.3%,#226dac 91.7%,#2474b0 100.0%)"></div>
<div style="top:810px;background:linear-gradient(90deg,#4875ae 0.0%,#3c6ca9 8.3%,#3161a6 16.7%,#27599e 25.0%,#22539d 33.3%,#20519f 41.7%,#1d51a1 50.0%,#1d55a3 58.3%,#1e5aa5 66.7%,#1f60a7 75.0%,#2067aa 83.3%,#226ead 91.7%,#2475b1 100.0%)"></div>
<div style="top:820px;background:linear-gradient(90deg,#4775af 0.0%,#3b6caa 8.3%,#3062a6 16.7%,#26599f 25.0%,#22539e 33.3%,#1f519f 41.7%,#1d52a1 50.0%,#1d56a3 58.3%,#1e5ba5 66.7%,#1f61a8 75.0%,#2068ab 83.3%,#226fad 91.7%,#2476b1 100.0%)"></div>
<div style="top:830px;background:linear-gradient(90deg,#4775af 0.0%,#3a6daa 8.3%,#2f62a7 16.7%,#25599f 25.0%,#21549e 33.3%,#1f529f 41.7%,#1c52a1 50.0%,#1d56a4 58.3%,#1d5ba6 66.7%,#1f61a8 75.0%,#2069ab 83.3%,#2270ae 91.7%,#2577b1 100.0%)"></div>
<div style="top:840px;background:linear-gradient(90deg,#4676af 0.0%,#3a6daa 8.3%,#2f63a7 16.7%,#255aa0 25.0%,#21549e 33.3%,#1e52a0 41.7%,#1c53a2 50.0%,#1c57a4 58.3%,#1d5ca6 66.7%,#1e62a9 75.0%,#206aab 83.3%,#2270ae 91.7%,#2578b2 100.0%)"></div>
<div style="top:850px;background:linear-gradient(90deg,#4676b0 0.0%,#396eab 8.3%,#2e63a7 16.7%,#245aa0 25.0%,#20549f 33.3%,#1e53a0 41.7%,#1c53a2 50.0%,#1c58a4 58.3%,#1d5da7 66.7%,#1e63a9 75.0%,#206aac 83.3%,#2271ae 91.7%,#2578b2 100.0%)"></div>
<div style="top:860px;background:linear-gradient(90deg,#4577b0 0.0%,#396eab 8.3%,#2d63a8 16.7%,#235ba0 25.0%,#20559f 33.3%,#1d53a1 41.7%,#1b54a2 50.0%,#1c58a5 58.3%,#1d5da7 66.7%,#1e64a9 75.0%,#206bac 83.3%,#2272af 91.7%,#2579b3 100.0%)"></div>
<div style="top:870px;background:linear-gradient(90deg,#4477b0 0.0%,#386eab 8.3%,#2d64a8 16.7%,#235ba1 25.0%,#1f55a0 33.3%,#1d54a1 41.7%,#1b54a3 50.0%,#1c59a5 58.3%,#1d5ea7 66.7%,#1e64aa 75.0%,#206cad 83.3%,#2273af 91.7%,#257ab3 100.0%)"></div>
<div style="top:880px;background:linear-gradient(90deg,#4477b1 0.0%,#376fac 8.3%,#2c64a8 16.7%,#225ca1 25.0%,#1e56a0 33.3%,#1c54a1 41.7%,#1a55a3 50.0%,#1b59a6 58.3%,#1d5fa8 66.7%,#1e65aa 75.0%,#206cad 83.3%,#2273b0 91.7%,#267bb3 100.0%)"></div>
<div style="top:890px;background:linear-gradient(90deg,#4378b1 0.0%,#376fac 8.3%,#2b65a9 16.7%,#215ca2 25.0%,#1e56a0 33.3%,#1c55a2 41.7%,#1a55a4 50.0%,#1b5aa6 58.3%,#1c5fa8 66.7%,#1e66ab 75.0%,#206dad 83.3%,#2374b0 91.7%,#267cb4 100.0%)"></div>
<div style="top:900px;background:linear-gradient(90deg,#4378b1 0.0%,#3670ac 8.3%,#2b65a9 16.7%,#215ca2 25.0%,#1d57a1 33.3%,#1b55a2 41.7%,#1956a4 50.0%,#1b5ba6 58.3%,#1c60a9 66.7%,#1e66ab 75.0%,#206eae 83.3%,#2375b0 91.7%,#267cb4 100.0%)"></div>
<div style="top:910px;background:linear-gradient(90deg,#4279b1 0.0%,#3570ad 8.3%,#2a65a9 16.7%,#205da2 25.0%,#1d57a1 33.3%,#1b56a3 41.7%,#1956a4 50.0%,#1a5ba7 58.3%,#1c61a9 66.7%,#1e67ab 75.0%,#206fae 83.3%,#2376b1 91.7%,#267db5 100.0%)"></div>
<div style="top:920px;background:linear-gradient(90deg,#4179b2 0.0%,#3570ad 8.3%,#2966aa 16.7%,#205da3 25.0%,#1c58a2 33.3%,#1a56a3 41.7%,#1957a5 50.0%,#1a5ca7 58.3%,#1c61a9 66.7%,#1e68ac 75.0%,#206faf 83.3%,#2377b1 91.7%,#267eb5 100.0%)"></div>
<div style="top:930px;background:linear-gradient(90deg,#4179b2 0.0%,#3471ad 8.3%,#2966aa 16.7%,#1f5ea3 25.0%,#1c58a2 33.3%,#1a57a3 41.7%,#1857a5 50.0%,#1a5ca8 58.3%,#1c62aa 66.7%,#1e68ac 75.0%,#2070af 83.3%,#2377b2 91.7%,#277fb5 100.0%)"></div>
<div style="top:940px;background:linear-gradient(90deg,#407ab2 0.0%,#3371ae 8.3%,#2867ab 16.7%,#1e5ea4 25.0%,#1b59a3 33.3%,#1957a4 41.7%,#1858a6 50.0%,#1a5da8 58.3%,#1b62aa 66.7%,#1e69ad 75.0%,#2071af 83.3%,#2378b2 91.7%,#2780b6 100.0%)"></div>
<div style="top:950px;background:linear-gradient(90deg,#3f7ab3 0.0%,#3372ae 8.3%,#2867ab 16.7%,#1e5ea4 25.0%,#1a59a3 33.3%,#1958a4 41.7%,#1758a6 50.0%,#195da8 58.3%,#1b63ab 66.7%,#1d6aad 75.0%,#2072b0 83.3%,#2379b3 91.7%,#2780b6 100.0%)"></div>
<div style="top:960px;background:linear-gradient(90deg,#3f7bb3 0.0%,#3272ae 8.3%,#2768ab 16.7%,#1d5fa4 25.0%,#1a59a3 33.3%,#1858a5 41.7%,#1759a6 50.0%,#195ea9 58.3%,#1b64ab 66.7%,#1d6aad 75.0%,#2072b0 83.3%,#237ab3 91.7%,#2781b7 100.0%)"></div>
<div style="top:970px;background:linear-gradient(90deg,#3e7bb3 0.0%,#3273af 8.3%,#2668ac 16.7%,#1c5fa5 25.0%,#195aa4 33.3%,#1859a5 41.7%,#1759a7 50.0%,#195fa9 58.3%,#1b64ab 66.7%,#1d6bae 75.0%,#2073b1 83.3%,#237ab3 91.7%,#2882b7 100.0%)"></div>
<div style="top:980px;background:linear-gradient(90deg,#3e7bb4 0.0%,#3173af 8.3%,#2668ac 16.7%,#1c60a5 25.0%,#195aa4 33.3%,#1759a5 41.7%,#165aa7 50.0%,#185faa 58.3%,#1b65ac 66.7%,#1d6cae 75.0%,#2074b1 83.3%,#237bb4 91.7%,#2883b7 100.0%)"></div>
<div style="top:990px;background:linear-gradient(90deg,#3d7cb4 0.0%,#3073af 8.3%,#2569ac 16.7%,#1b60a6 25.0%,#185ba5 33.3%,#1759a6 41.7%,#165aa8 50.0%,#1860aa 58.3%,#1a66ac 66.7%,#1d6caf 75.0%,#2075b2 83.3%,#247cb4 91.7%,#2884b8 100.0%)"></div>
<div style="top:1000px;background:linear-gradient(90deg,#3d7db4 0.0%,#3074b0 8.3%,#2469ad 16.7%,#1a61a6 25.0%,#185ba5 33.3%,#165aa6 41.7%,#165ba8 50.0%,#1861aa 58.3%,#1a67ad 66.7%,#1d6daf 75.0%,#2075b2 83.3%,#247db5 91.7%,#2885b8 100.0%)"></div>
<div style="top:1010px;background:linear-gradient(90deg,#3c7eb5 0.0%,#2f75b0 8.3%,#246aad 16.7%,#1a62a7 25.0%,#175ca6 33.3%,#165ba7 41.7%,#155ca8 50.0%,#1862ab 58.3%,#1a68ad 66.7%,#1d6eaf 75.0%,#2077b2 83.3%,#247eb5 91.7%,#2886b9 100.0%)"></div>
<div style="top:1020px;background:linear-gradient(90deg,#3c7fb5 0.0%,#2f76b0 8.3%,#236bae 16.7%,#1963a7 25.0%,#175da6 33.3%,#165ca7 41.7%,#155da9 50.0%,#1763ab 58.3%,#1a69ae 66.7%,#1d6fb0 75.0%,#2078b3 83.3%,#247fb5 91.7%,#2887b9 100.0%)"></div>
<div style="top:1030px;background:linear-gradient(90deg,#3b7fb5 0.0%,#2e77b1 8.3%,#236cae 16.7%,#1964a7 25.0%,#165ea6 33.3%,#155da8 41.7%,#155ea9 50.0%,#1764ac 58.3%,#1a6aae 66.7%,#1d71b0 75.0%,#2079b3 83.3%,#2480b6 91.7%,#2988b9 100.0%)"></div>
<div style="top:1040px;background:linear-gradient(90deg,#3b81b6 0.0%,#2e78b1 8.3%,#226daf 16.7%,#1865a8 25.0%,#165fa7 33.3%,#155ea8 41.7%,#145faa 50.0%,#1765ac 58.3%,#1a6bae 66.7%,#1d72b1 75.0%,#207ab4 83.3%,#2482b6 91.7%,#2989ba 100.0%)"></div>
<div style="top:1050px;background:linear-gradient(90deg,#3a82b6 0.0%,#2d79b2 8.3%,#226eaf 16.7%,#1866a8 25.0%,#1660a7 33.3%,#155fa9 41.7%,#1460aa 50.0%,#1766ad 58.3%,#1a6caf 66.7%,#1d73b1 75.0%,#207bb4 83.3%,#2483b7 91.7%,#298bba 100.0%)"></div>
<div style="top:1060px;background:linear-gradient(90deg,#3a82b7 0.0%,#2d7ab2 8.3%,#216fb0 16.7%,#1767a9 25.0%,#1561a8 33.3%,#1460a9 41.7%,#1461ab 50.0%,#1767ad 58.3%,#1a6daf 66.7%,#1d74b1 75.0%,#207cb4 83.3%,#2484b7 91.7%,#298cbb 100.0%)"></div>
<div style="top:1070px;background:linear-gradient(90deg,#3a84b7 0.0%,#2d7bb2 8.3%,#2170b0 16.7%,#1768a9 25.0%,#1562a8 33.3%,#1461aa 41.7%,#1362ab 50.0%,#1668ae 58.3%,#196eb0 66.7%,#1d75b2 75.0%,#207eb5 83.3%,#2585b8 91.7%,#2a8dbb 100.0%)"></div>
<div style="top:1080px;background:linear-gradient(90deg,#3984b7 0.0%,#2c7cb3 8.3%,#2171b1 16.7%,#1669aa 25.0%,#1463a9 33.3%,#1462aa 41.7%,#1363ab 50.0%,#1669ae 58.3%,#196fb0 66.7%,#1d76b2 75.0%,#207fb5 83.3%,#2586b8 91.7%,#2a8ebb 100.0%)"></div>
<div style="top:1090px;background:linear-gradient(90deg,#3986b8 0.0%,#2c7db3 8.3%,#2072b1 16.7%,#166aaa 25.0%,#1464a9 33.3%,#1363aa 41.7%,#1364ac 50.0%,#166aaf 58.3%,#1970b1 66.7%,#1d77b3 75.0%,#2080b6 83.3%,#2588b8 91.7%,#2a8fbc 100.0%)"></div>
<div style="top:1100px;background:linear-gradient(90deg,#3987b8 0.0%,#2b7eb4 8.3%,#2073b1 16.7%,#166bab 25.0%,#1465aa 33.3%,#1364ab 41.7%,#1365ac 50.0%,#166baf 58.3%,#1972b1 66.7%,#1d79b3 75.0%,#2081b6 83.3%,#2589b9 91.7%,#2a91bc 100.0%)"></div>
<div style="top:1110px;background:linear-gradient(90deg,#3988b9 0.0%,#2b7fb4 8.3%,#2075b2 16.7%,#166cab 25.0%,#1367aa 33.3%,#1365ab 41.7%,#1367ad 50.0%,#166daf 58.3%,#1973b1 66.7%,#1d7ab4 75.0%,#2082b7 83.3%,#258ab9 91.7%,#2b92bd 100.0%)"></div>
<div style="top:1120px;background:linear-gradient(90deg,#3989b9 0.0%,#2b81b5 8.3%,#1f76b2 16.7%,#156dac 25.0%,#1368ab 33.3%,#1367ac 41.7%,#1368ad 50.0%,#166eb0 58.3%,#1a74b2 66.7%,#1d7bb4 75.0%,#2184b7 83.3%,#268bba 91.7%,#2b93bd 100.0%)"></div>
<div style="top:1130px;background:linear-gradient(90deg,#398ab9 0.0%,#2b82b5 8.3%,#1f77b3 16.7%,#156eac 25.0%,#1369ab 33.3%,#1368ac 41.7%,#1369ae 50.0%,#166fb0 58.3%,#1a75b2 66.7%,#1d7cb4 75.0%,#2185b7 83.3%,#268cba 91.7%,#2b94bd 100.0%)"></div>
<div style="top:1140px;background:linear-gradient(90deg,#398bba 0.0%,#2b83b5 8.3%,#1f78b3 16.7%,#156fad 25.0%,#136aac 33.3%,#1369ad 41.7%,#136aae 50.0%,#1670b1 58.3%,#1a76b3 66.7%,#1e7db5 75.0%,#2186b8 83.3%,#268ebb 91.7%,#2c95be 100.0%)"></div>
<div style="top:1150px;background:linear-gradient(90deg,#398dba 0.0%,#2b84b6 8.3%,#1f79b4 16.7%,#1570ad 25.0%,#136bac 33.3%,#136aad 41.7%,#136baf 50.0%,#1671b1 58.3%,#1a78b3 66.7%,#1e7eb5 75.0%,#2187b8 83.3%,#278fbb 91.7%,#2c97be 100.0%)"></div>
<div style="top:1160px;background:linear-gradient(90deg,#398ebb 0.0%,#2b85b6 8.3%,#1f7ab4 16.7%,#1571ae 25.0%,#136cad 33.3%,#136bae 41.7%,#136caf 50.0%,#1672b2 58.3%,#1a79b4 66.7%,#1e80b6 75.0%,#2288b9 83.3%,#2790bb 91.7%,#2d98bf 100.0%)"></div>
<div style="top:1170px;background:linear-gradient(90deg,#398fbb 0.0%,#2b87b7 8.3%,#1f7bb5 16.7%,#1573ae 25.0%,#136dad 33.3%,#136cae 41.7%,#136daf 50.0%,#1674b2 58.3%,#1a7ab4 66.7%,#1e81b6 75.0%,#2289b9 83.3%,#2791bc 91.7%,#2d99bf 100.0%)"></div>
<div style="top:1180px;background:linear-gradient(90deg,#3890bb 0.0%,#2b88b7 8.3%,#1f7db5 16.7%,#1574af 25.0%,#136eae 33.3%,#136daf 41.7%,#136eb0 50.0%,#1775b3 58.3%,#1a7bb5 66.7%,#1e82b6 75.0%,#228bba 83.3%,#2892bc 91.7%,#2d9abf 100.0%)"></div>
<div style="top:1190px;background:linear-gradient(90deg,#3891bc 0.0%,#2b89b7 8.3%,#1f7eb6 16.7%,#1475af 25.0%,#1370ae 33.3%,#126eaf 41.7%,#1370b0 50.0%,#1776b3 58.3%,#1b7cb5 66.7%,#1f83b7 75.0%,#238cba 83.3%,#2894bd 91.7%,#2e9bc0 100.0%)"></div>
<div style="top:1200px;background:linear-gradient(90deg,#3993bc 0.0%,#2b8ab8 8.3%,#1f7fb6 16.7%,#1576af 25.0%,#1371af 33.3%,#1370b0 41.7%,#1371b1 50.0%,#1777b3 58.3%,#1b7db5 66.7%,#1f84b7 75.0%,#238dba 83.3%,#2995bd 91.7%,#2e9dc0 100.0%)"></div>
<div style="top:1210px;background:linear-gradient(90deg,#3a94bd 0.0%,#2c8cb8 8.3%,#1f80b6 16.7%,#1577b0 25.0%,#1372af 33.3%,#1371b0 41.7%,#1372b1 50.0%,#1778b4 58.3%,#1b7fb6 66.7%,#2086b8 75.0%,#248ebb 83.3%,#2996bd 91.7%,#2f9ec1 100.0%)"></div>
<div style="top:1220px;background:linear-gradient(90deg,#3a96bd 0.0%,#2c8db9 8.3%,#2082b7 16.7%,#1679b0 25.0%,#1473b0 33.3%,#1472b1 41.7%,#1473b2 50.0%,#187ab4 58.3%,#1c80b6 66.7%,#2087b8 75.0%,#2490bb 83.3%,#2a97be 91.7%,#309fc1 100.0%)"></div>
<div style="top:1230px;background:linear-gradient(90deg,#3b97bd 0.0%,#2d8eb9 8.3%,#2183b7 16.7%,#167ab1 25.0%,#1474b0 33.3%,#1473b1 41.7%,#1474b2 50.0%,#187bb5 58.3%,#1d81b7 66.7%,#2188b9 75.0%,#2591bc 83.3%,#2a98be 91.7%,#30a0c1 100.0%)"></div>
<div style="top:1240px;background:linear-gradient(90deg,#3c98be 0.0%,#2e90ba 8.3%,#2184b8 16.7%,#177bb1 25.0%,#1576b1 33.3%,#1574b1 41.7%,#1576b3 50.0%,#197cb5 58.3%,#1d82b7 66.7%,#2189b9 75.0%,#2592bc 83.3%,#2b9abf 91.7%,#31a1c2 100.0%)"></div>
<div style="top:1250px;background:linear-gradient(90deg,#3d9abe 0.0%,#2e91ba 8.3%,#2286b8 16.7%,#177cb2 25.0%,#1577b1 33.3%,#1576b2 41.7%,#1577b3 50.0%,#1a7db6 58.3%,#1e84b8 66.7%,#228ab9 75.0%,#2693bd 83.3%,#2b9bbf 91.7%,#31a3c2 100.0%)"></div>
<div style="top:1260px;background:linear-gradient(90deg,#3e9bbf 0.0%,#2f92ba 8.3%,#2287b9 16.7%,#187eb2 25.0%,#1678b2 33.3%,#1677b2 41.7%,#1678b3 50.0%,#1a7fb6 58.3%,#1e85b8 66.7%,#228cba 75.0%,#2694bd 83.3%,#2c9cc0 91.7%,#32a4c3 100.0%)"></div>
<div style="top:1270px;background:linear-gradient(90deg,#3e9cbf 0.0%,#3094bb 8.3%,#2388b9 16.7%,#187fb3 25.0%,#1679b2 33.3%,#1678b3 41.7%,#1679b4 50.0%,#1b80b7 58.3%,#1f86b8 66.7%,#238dba 75.0%,#2796bd 83.3%,#2d9dc0 91.7%,#32a5c3 100.0%)"></div>
<div style="top:1280px;background:linear-gradient(90deg,#3f9ebf 0.0%,#3095bb 8.3%,#248aba 16.7%,#1980b3 25.0%,#177bb2 33.3%,#1779b3 41.7%,#177ab4 50.0%,#1b81b7 58.3%,#1f87b9 66.7%,#238ebb 75.0%,#2897be 83.3%,#2d9ec0 91.7%,#33a6c3 100.0%)"></div>
<div style="top:1290px;background:linear-gradient(90deg,#409fc0 0.0%,#3197bc 8.3%,#248bba 16.7%,#1982b4 25.0%,#177cb3 33.3%,#177bb4 41.7%,#177cb5 50.0%,#1c82b7 58.3%,#2089b9 66.7%,#248fbb 75.0%,#2898be 83.3%,#2ea0c1 91.7%,#34a7c4 100.0%)"></div>
<div style="top:1300px;background:linear-gradient(90deg,#41a1c0 0.0%,#3298bc 8.3%,#258cbb 16.7%,#1a83b4 25.0%,#187db4 33.3%,#187cb4 41.7%,#187db5 50.0%,#1c84b8 58.3%,#208aba 66.7%,#2591bb 75.0%,#2999bf 83.3%,#2ea1c1 91.7%,#34a9c4 100.0%)"></div>
<div style="top:1310px;background:linear-gradient(90deg,#42a2c1 0.0%,#339abd 8.3%,#268ebb 16.7%,#1a84b5 25.0%,#197fb4 33.3%,#187db5 41.7%,#187eb6 50.0%,#1d85b8 58.3%,#218bba 66.7%,#2592bc 75.0%,#299bbf 83.3%,#2fa2c1 91.7%,#35aac4 100.0%)"></div>
<div style="top:1320px;background:linear-gradient(90deg,#43a4c2 0.0%,#349bbe 8.3%,#268fbc 16.7%,#1b86b6 25.0%,#1980b5 33.3%,#197fb6 41.7%,#1980b6 50.0%,#1d86b9 58.3%,#228cbb 66.7%,#2693bc 75.0%,#2a9cbf 83.3%,#30a3c2 91.7%,#36abc4 100.0%)"></div>
<div style="top:1330px;background:linear-gradient(90deg,#44a6c3 0.0%,#349dbf 8.3%,#2791bd 16.7%,#1c87b6 25.0%,#1a81b6 33.3%,#1a80b6 41.7%,#1a81b7 50.0%,#1e87b9 58.3%,#228ebb 66.7%,#2694bd 75.0%,#2b9dc0 83.3%,#30a5c2 91.7%,#36acc5 100.0%)"></div>
<div style="top:1340px;background:linear-gradient(90deg,#45a7c4 0.0%,#359ebf 8.3%,#2892be 16.7%,#1c89b7 25.0%,#1a83b6 33.3%,#1a81b7 41.7%,#1a82b7 50.0%,#1f89ba 58.3%,#238fbc 66.7%,#2796bd 75.0%,#2b9ec0 83.3%,#31a6c2 91.7%,#37adc5 100.0%)"></div>
<div style="top:1350px;background:linear-gradient(90deg,#46a9c4 0.0%,#36a0c0 8.3%,#2994bf 16.7%,#1d8ab8 25.0%,#1b84b7 33.3%,#1b83b7 41.7%,#1b83b8 50.0%,#1f8aba 58.3%,#2490bc 66.7%,#2897bd 75.0%,#2ca0c0 83.3%,#31a7c3 91.7%,#37afc5 100.0%)"></div>
<div style="top:1360px;background:linear-gradient(90deg,#47aac5 0.0%,#37a1c1 8.3%,#2995bf 16.7%,#1e8bb9 25.0%,#1c86b8 33.3%,#1b84b8 41.7%,#1b85b8 50.0%,#208bbb 58.3%,#2492bc 66.7%,#2898be 75.0%,#2ca1c1 83.3%,#32a8c3 91.7%,#38b0c5 100.0%)"></div>
<div style="top:1370px;background:linear-gradient(90deg,#48acc6 0.0%,#38a3c2 8.3%,#2a97c0 16.7%,#1e8db9 25.0%,#1c87b8 33.3%,#1c85b9 41.7%,#1c86b9 50.0%,#208dbb 58.3%,#2593bd 66.7%,#299abe 75.0%,#2da2c1 83.3%,#33aac3 91.7%,#38b1c5 100.0%)"></div>
<div style="top:1380px;background:linear-gradient(90deg,#49aec7 0.0%,#39a4c2 8.3%,#2b98c1 16.7%,#1f8eba 25.0%,#1d88b9 33.3%,#1d87b9 41.7%,#1d87ba 50.0%,#218ebc 58.3%,#2594bd 66.7%,#299bbe 75.0%,#2ea4c1 83.3%,#33abc3 91.7%,#39b2c6 100.0%)"></div>
<div style="top:1390px;background:linear-gradient(90deg,#4aafc8 0.0%,#3aa6c3 8.3%,#2c9ac2 16.7%,#2090bb 25.0%,#1e8aba 33.3%,#1d88ba 41.7%,#1d89ba 50.0%,#228fbc 58.3%,#2696be 66.7%,#2a9cbf 75.0%,#2ea5c2 83.3%,#34acc4 91.7%,#3ab3c6 100.0%)"></div>
<div style="top:1400px;background:linear-gradient(90deg,#4bb0c8 0.0%,#3ba7c4 8.3%,#2d9bc2 16.7%,#2091bb 25.0%,#1e8bba 33.3%,#1e89ba 41.7%,#1e8abb 50.0%,#2291bd 58.3%,#2797be 66.7%,#2b9dbf 75.0%,#2fa6c2 83.3%,#34adc4 91.7%,#3ab5c6 100.0%)"></div>
<div style="top:1410px;background:linear-gradient(90deg,#4db1c9 0.0%,#3ca8c4 8.3%,#2e9cc3 16.7%,#2292bc 25.0%,#1f8cbb 33.3%,#1f8abb 41.7%,#1f8bbb 50.0%,#2392bd 58.3%,#2798bf 66.7%,#2b9ec0 75.0%,#2fa7c2 83.3%,#35aec4 91.7%,#3bb6c7 100.0%)"></div>
<div style="top:1420px;background:linear-gradient(90deg,#4eb2c9 0.0%,#3ea9c5 8.3%,#2f9cc3 16.7%,#2393bc 25.0%,#208dbb 33.3%,#208bbb 41.7%,#1f8cbb 50.0%,#2493be 58.3%,#2899bf 66.7%,#2c9fc0 75.0%,#30a8c3 83.3%,#35b0c5 91.7%,#3bb7c7 100.0%)"></div>
<div style="top:1430px;background:linear-gradient(90deg,#50b3c9 0.0%,#3faac5 8.3%,#309dc4 16.7%,#2493bd 25.0%,#218dbc 33.3%,#218cbc 41.7%,#208dbc 50.0%,#2594be 58.3%,#299ac0 66.7%,#2ca1c0 75.0%,#30a9c3 83.3%,#36b1c5 91.7%,#3bb8c7 100.0%)"></div>
<div style="top:1440px;background:linear-gradient(90deg,#51b4ca 0.0%,#40aac5 8.3%,#319ec4 16.7%,#2594bd 25.0%,#228ebc 33.3%,#228dbc 41.7%,#218ebc 50.0%,#2595bf 58.3%,#299bc0 66.7%,#2da2c1 75.0%,#31aac4 83.3%,#36b2c6 91.7%,#3cb9c8 100.0%)"></div>
<div style="top:1450px;background:linear-gradient(90deg,#53b4ca 0.0%,#42abc6 8.3%,#339fc4 16.7%,#2695be 25.0%,#238fbd 33.3%,#228ebd 41.7%,#228ebd 50.0%,#2696bf 58.3%,#2a9cc0 66.7%,#2ea3c1 75.0%,#31acc4 83.3%,#37b3c6 91.7%,#3cbbc8 100.0%)"></div>
<div style="top:1460px;background:linear-gradient(90deg,#55b5cb 0.0%,#43acc6 8.3%,#34a0c5 16.7%,#2796be 25.0%,#2490bd 33.3%,#238fbd 41.7%,#238fbd 50.0%,#2797c0 58.3%,#2b9dc1 66.7%,#2ea4c2 75.0%,#32adc5 83.3%,#37b4c7 91.7%,#3dbcc9 100.0%)"></div>
<div style="top:1470px;background:linear-gradient(90deg,#56b6cb 0.0%,#45adc7 8.3%,#35a0c5 16.7%,#2897bf 25.0%,#2591be 33.3%,#248fbe 41.7%,#2390be 50.0%,#2897c0 58.3%,#2b9ec1 66.7%,#2fa5c2 75.0%,#32aec5 83.3%,#38b5c7 91.7%,#3dbdc9 100.0%)"></div>
<div style="top:1480px;background:linear-gradient(90deg,#58b7cb 0.0%,#46aec7 8.3%,#36a1c6 16.7%,#2997bf 25.0%,#2692be 33.3%,#2590be 41.7%,#2491be 50.0%,#2898c0 58.3%,#2c9fc2 66.7%,#30a6c3 75.0%,#33afc5 83.3%,#38b7c7 91.7%,#3dbec9 100.0%)"></div>
<div style="top:1490px;background:linear-gradient(90deg,#59b8cc 0.0%,#47afc8 8.3%,#38a2c6 16.7%,#2a98c0 25.0%,#2793bf 33.3%,#2691be 41.7%,#2592bf 50.0%,#2999c1 58.3%,#2da0c2 66.7%,#30a7c3 75.0%,#34b0c6 83.3%,#39b8c8 91.7%,#3ebfca 100.0%)"></div>
<div style="top:1500px;background:linear-gradient(90deg,#5bb8cc 0.0%,#48afc8 8.3%,#39a3c7 16.7%,#2b99c0 25.0%,#2893bf 33.3%,#2792bf 41.7%,#2693bf 50.0%,#2a9ac1 58.3%,#2da1c3 66.7%,#31a8c3 75.0%,#34b1c6 83.3%,#39b9c8 91.7%,#3ec1ca 100.0%)"></div>
<div style="top:1510px;background:linear-gradient(90deg,#5cb9cc 0.0%,#49b0c8 8.3%,#39a3c7 16.7%,#2c9ac0 25.0%,#2994bf 33.3%,#2793bf 41.7%,#2694bf 50.0%,#2a9bc1 58.3%,#2ea2c3 66.7%,#31a9c4 75.0%,#35b2c7 83.3%,#3abac8 91.7%,#3fc2ca 100.0%)"></div>
<div style="top:1520px;background:linear-gradient(90deg,#5db9cc 0.0%,#4ab0c8 8.3%,#3aa4c7 16.7%,#2c9ac0 25.0%,#2995bf 33.3%,#2893bf 41.7%,#2795bf 50.0%,#2b9cc2 58.3%,#2fa3c3 66.7%,#32aac4 75.0%,#35b3c7 83.3%,#3abbc9 91.7%,#3fc3cb 100.0%)"></div>
<div style="top:1530px;background:linear-gradient(90deg,#5ebacc 0.0%,#4bb1c8 8.3%,#3ba5c7 16.7%,#2d9bc0 25.0%,#2a95bf 33.3%,#2994bf 41.7%,#2895bf 50.0%,#2c9dc2 58.3%,#2fa4c3 66.7%,#33abc4 75.0%,#36b4c7 83.3%,#3bbcc9 91.7%,#40c4cb 100.0%)"></div>
<div style="top:1540px;background:linear-gradient(90deg,#5fbbcc 0.0%,#4cb2c8 8.3%,#3ca5c7 16.7%,#2e9cc0 25.0%,#2b96c0 33.3%,#2a95c0 41.7%,#2896c0 50.0%,#2c9ec2 58.3%,#30a5c3 66.7%,#33acc4 75.0%,#36b5c7 83.3%,#3cbdc9 91.7%,#41c5cb 100.0%)"></div>
<div style="top:1550px;background:linear-gradient(90deg,#60bbcc 0.0%,#4db2c8 8.3%,#3da6c7 16.7%,#2f9cc1 25.0%,#2c97c0 33.3%,#2a96c0 41.7%,#2997c0 50.0%,#2d9fc2 58.3%,#31a6c4 66.7%,#34adc4 75.0%,#37b6c8 83.3%,#3cbeca 91.7%,#41c6cc 100.0%)"></div>
<div style="top:1560px;background:linear-gradient(90deg,#61bccc 0.0%,#4eb3c8 8.3%,#3ea6c7 16.7%,#2f9dc1 25.0%,#2c97c0 33.3%,#2b96c0 41.7%,#2a98c0 50.0%,#2ea0c3 58.3%,#31a7c4 66.7%,#34aec5 75.0%,#38b7c8 83.3%,#3dbfca 91.7%,#42c7cc 100.0%)"></div>
</div>
<div class="card"></div>

<div class="t big" style="left:760px;top:189.5px;width:147px;text-align:right">652.8 kb</div>
<div class="t sub" style="left:770px;top:229px;width:137px;text-align:right">113 input files</div>
<svg style="position:absolute;left:940px;top:205px" width="40" height="26" viewBox="940 205 40 26"><path d="M946 218.2H968" stroke="#aaaaaa" stroke-width="2.3" fill="none"/><path d="M965.5 211L975 218.2L965.5 225.4Z" fill="#aaaaaa"/></svg>
<div class="redbox"></div>
<div class="t big" style="left:982px;top:189.5px;width:199px;text-align:center">324.4 kb</div>
<div class="t sub" style="left:982px;top:229px;width:199px;text-align:center">1 output file</div>

<div class="t sub" style="left:749px;top:276px;color:#e0e0e0">100% CJS</div>
<div class="bar"></div>
<div class="t sub" style="left:1099px;top:276px;color:#e0e0e0">0% ESM</div>

<div class="line" style="left:144px;width:581px"></div>
<div class="line" style="left:1196px;width:580px"></div>
<div class="t tab" style="left:743px;top:359.5px;font-weight:bold;color:#f0f0f0">Treemap Chart</div>
<div class="sep" style="left:890.5px"></div>
<div class="t tab" style="left:912px;top:359.5px">Sunburst Chart</div>
<div class="sep" style="left:1054.5px"></div>
<div class="t tab" style="left:1076px;top:359.5px">Flame Chart</div>

<div class="t desc" style="left:613px;top:440.3px">This visualization shows which input files were placed into each output file in the</div>
<div class="t desc" style="left:613px;top:463.3px">bundle. Click on a node to expand and focus it.</div>
<div class="t desc" style="left:613px;top:509.3px"><b style="color:#ececec">Benefit of this chart type:</b> Makes the most of available screen area.</div>

<div class="root"><b style="color:#ededed">main.js</b><span style="color:#8c8c8c"> – 324.4 kb</span></div>
<div class=n style='left:149px;top:622px;width:1294px;height:788px;background:#33cc6f;border-color:#14522c'><b style='top:3.2px'>node_modules/<i> – 258.8 kb</i></b></div>
<div class=n style='left:154px;top:645px;width:1284px;height:760px;background:#33cc6f;border-color:#14522c'><b style='top:3.2px'>dub/<i> – 258.8 kb</i></b></div>
<div class=n style='left:158px;top:668px;width:938px;height:733px;background:#58cc33;border-color:#235214'><b style='top:3.2px'>models/<i> – 190.4 kb</i></b></div>
<div class=n style='left:163px;top:691px;width:483px;height:705px;background:#e9d716;border-color:#5d5609'><b style='top:3.3px'>components/<i> – 98.8 kb</i></b></div>
<div class=n style='left:167px;top:714px;width:256px;height:257px;background:#fe3001;border-color:#661300'><b style='top:3.4px'>linkschema.js</b><b class=s style='top:126.9px'>20.0 kb</b></div>
<div class=n style='left:422px;top:714px;width:219px;height:257px;background:#f78608;border-color:#633603'><b style='top:3.4px'>linkgeotargeting.js</b><b class=s style='top:126.9px'>17.2 kb</b></div>
<div class=n style='left:167px;top:970px;width:112px;height:107px;background:#f1b20e;border-color:#604706'><b style='top:3.0px'>salescountri...</b><b class=s style='top:51.7px'>3.6 kb</b></div>
<div class=n style='left:167px;top:1076px;width:112px;height:107px;background:#efbf10;border-color:#604c06'><b style='top:2.9px'>salescities.j...</b><b class=s style='top:51.5px'>3.6 kb</b></div>
<div class=n style='left:167px;top:1182px;width:112px;height:104px;background:#eccc13;border-color:#5e5208'><b style='top:2.7px'>leadscountri...</b><b class=s style='top:50.3px'>3.6 kb</b></div>
<div class=n style='left:167px;top:1285px;width:112px;height:106px;background:#e9d816;border-color:#5d5609'><b style='top:3.5px'>clickscities.j...</b><b class=s style='top:51.7px'>3.6 kb</b></div>
<div class=n style='left:278px;top:970px;width:124px;height:95px;background:#e6e419;border-color:#5c5b0a'><b style='top:3.0px'>leadscities.js</b><b class=s style='top:45.7px'>3.6 kb</b></div>
<div class=n style='left:401px;top:970px;width:122px;height:95px;background:#d8e31c;border-color:#565b0b'><b style='top:3.0px'>workspacesc...</b><b class=s style='top:45.7px'>3.5 kb</b></div>
<div class=n style='left:522px;top:970px;width:119px;height:95px;background:#c9e01f;border-color:#505a0c'><b style='top:3.0px'>clickscountri...</b><b class=s style='top:45.7px'>3.4 kb</b></div>
<div class=n style='left:278px;top:1064px;width:89px;height:113px;background:#bcdd22;border-color:#4b580e'><b style='top:2.9px'>countryc...</b><b class=s style='top:54.6px'>3.0 kb</b></div>
<div class=n style='left:278px;top:1176px;width:89px;height:60px;background:#b3db24;border-color:#48580e'><b style='top:2.9px'>domains...</b><b class=s style='top:28.0px'>1.6 kb</b></div>
<div class=n style='left:278px;top:1235px;width:89px;height:57px;background:#add926;border-color:#45570f'><b style='top:2.7px'>tagsche...</b><b class=s style='top:26.7px'>1.5 kb</b></div>
<div class=n style='left:278px;top:1291px;width:89px;height:51px;background:#a7d827;border-color:#435610'><b style='top:3.2px'>salestopl...</b><b class=s style='top:23.8px'>1.4 kb</b></div>
<div class=n style='left:278px;top:1341px;width:89px;height:50px;background:#a2d728;border-color:#415610'><b style='top:2.9px'>clickstop...</b><b class=s style='top:23.4px'>1.3 kb</b></div>
<div class=n style='left:366px;top:1064px;width:62px;height:71px;background:#9ed52a;border-color:#3f5511'><b style='top:2.9px'>lead...</b><b class=s style='top:33.7px'>1.3 k...</b></div>
<div class=n style='left:427px;top:1064px;width:54px;height:71px;background:#99d42b;border-color:#3d5511'><b style='top:2.9px'>con...</b><b class=s style='top:33.7px'>1.2 ...</b></div>
<div class=n style='left:480px;top:1064px;width:55px;height:71px;background:#95d32c;border-color:#3c5412'><b style='top:2.9px'>sale...</b><b class=s style='top:33.7px'>1.2 ...</b></div>
<div class=n style='left:534px;top:1064px;width:54px;height:71px;background:#92d22d;border-color:#3a5412'><b style='top:2.9px'>sale...</b><b class=s style='top:33.7px'>1.1 ...</b></div>
<div class=n style='left:587px;top:1064px;width:54px;height:71px;background:#8ed12e;border-color:#395412'><b style='top:2.9px'>sale...</b><b class=s style='top:33.7px'>1.1 ...</b></div>
<div class=n style='left:366px;top:1134px;width:58px;height:66px;background:#8bd02f;border-color:#385313'><b style='top:3.0px'>sale...</b><b class=s style='top:31.5px'>1.1 ...</b></div>
<div class=n style='left:423px;top:1134px;width:55px;height:66px;background:#87cf30;border-color:#365313'><b style='top:3.0px'>click...</b><b class=s style='top:31.5px'>1.1 ...</b></div>
<div class=n style='left:477px;top:1134px;width:55px;height:66px;background:#84ce31;border-color:#355214'><b style='top:3.0px'>click...</b><b class=s style='top:31.5px'>1.1 ...</b></div>
<div class=n style='left:531px;top:1134px;width:56px;height:66px;background:#81cc33;border-color:#345214'><b style='top:3.0px'>click...</b><b class=s style='top:31.5px'>1.1 ...</b></div>
<div class=n style='left:586px;top:1134px;width:55px;height:66px;background:#7ecc33;border-color:#325214'><b style='top:3.0px'>lead...</b><b class=s style='top:31.5px'>1.1 ...</b></div>
<div class=n style='left:366px;top:1199px;width:58px;height:64px;background:#7bcc33;border-color:#315214'><b style='top:3.5px'>click...</b><b class=s style='top:30.6px'>1.1 ...</b></div>
<div class=n style='left:366px;top:1262px;width:58px;height:66px;background:#77cc33;border-color:#305214'><b style='top:3.2px'>sale...</b><b class=s style='top:31.4px'>1.1 ...</b></div>
<div class=n style='left:366px;top:1327px;width:58px;height:64px;background:#74cc33;border-color:#2e5214'><b style='top:3.2px'>lead...</b><b class=s style='top:30.6px'>1.1 ...</b></div>
<div class=n style='left:423px;top:1199px;width:57px;height:66px;background:#71cc33;border-color:#2d5214'><b style='top:3.5px'>lead...</b><b class=s style='top:31.3px'>1.1 ...</b></div>
<div class=n style='left:423px;top:1264px;width:57px;height:64px;background:#6ecc33;border-color:#2c5214'><b style='top:2.7px'>click...</b><b class=s style='top:30.2px'>1.1 ...</b></div>
<div class=n style='left:423px;top:1327px;width:57px;height:64px;background:#6bcc33;border-color:#2b5214'><b style='top:3.2px'>lead...</b><b class=s style='top:30.6px'>1.1 ...</b></div>
<div class=n style='left:479px;top:1199px;width:56px;height:67px;background:#68cc33;border-color:#2a5214'><b style='top:3.5px'>lead...</b><b class=s style='top:32.1px'>1.1 ...</b></div>
<div class=n style='left:479px;top:1265px;width:56px;height:64px;background:#65cc33;border-color:#285214'><b style='top:3.2px'>click...</b><b class=s style='top:30.2px'>1.1 ...</b></div>
<div class=n style='left:479px;top:1328px;width:56px;height:63px;background:#62cc33;border-color:#275214'><b style='top:2.9px'>click...</b><b class=s style='top:29.9px'>1.1 ...</b></div>
<div class=n style='left:534px;top:1199px;width:54px;height:67px;background:#5fcc33;border-color:#265214'><b style='top:3.5px'>sale...</b><b class=s style='top:32.1px'>1.1 ...</b></div>
<div class=n style='left:534px;top:1265px;width:54px;height:66px;background:#5bcc33;border-color:#245214'><b style='top:3.2px'>lea...</b><b class=s style='top:31.4px'>1.1 ...</b></div>
<div class=n style='left:587px;top:1199px;width:54px;height:68px;background:#58cc33;border-color:#235214'><b style='top:3.5px'>sale...</b><b class=s style='top:32.3px'>1.1 ...</b></div>
<div class=n style='left:587px;top:1266px;width:54px;height:65px;background:#55cc33;border-color:#225214'><b style='top:2.7px'>sec...</b><b class=s style='top:30.7px'>1.1 ...</b></div>
<div class=n style='left:534px;top:1330px;width:58px;height:61px;background:#52cc33;border-color:#215214'><b style='top:3.2px'>lead...</b><b class=s style='top:29.1px'>1.0 ...</b></div>
<div class=n style='left:591px;top:1330px;width:50px;height:61px;background:#50cc33;border-color:#205214'><b style='top:3.2px'>ind...</b><b class=s style='top:29.1px'>92...</b></div>
<div class=n style='left:645px;top:691px;width:447px;height:511px;background:#33cc76;border-color:#14522f'><b style='top:3.3px'>operations/<i> – 66.3 kb</i></b></div>
<div class=n style='left:649px;top:714px;width:173px;height:123px;background:#44cc33;border-color:#1b5214'><b style='top:3.5px'>retrieveanalytics.js</b><b class=s style='top:59.9px'>6.5 kb</b></div>
<div class=n style='left:821px;top:714px;width:139px;height:123px;background:#34cc33;border-color:#155214'><b style='top:3.5px'>updatelink.js</b><b class=s style='top:59.9px'>5.2 kb</b></div>
<div class=n style='left:959px;top:714px;width:128px;height:123px;background:#33cc40;border-color:#14521a'><b style='top:3.5px'>bulkupdatelink...</b><b class=s style='top:59.9px'>4.8 kb</b></div>
<div class=n style='left:649px;top:836px;width:120px;height:122px;background:#33cc4e;border-color:#14521f'><b style='top:2.9px'>bulkcreatelin...</b><b class=s style='top:59.3px'>4.6 kb</b></div>
<div class=n style='left:649px;top:957px;width:120px;height:123px;background:#33cc5b;border-color:#145224'><b style='top:3.3px'>upsertlink.js</b><b class=s style='top:59.7px'>4.6 kb</b></div>
<div class=n style='left:649px;top:1079px;width:120px;height:118px;background:#33cc68;border-color:#14522a'><b style='top:2.7px'>createlink.js</b><b class=s style='top:57.1px'>4.4 kb</b></div>
<div class=n style='left:768px;top:836px;width:126px;height:103px;background:#33cc73;border-color:#14522e'><b style='top:2.9px'>getlinkscount....</b><b class=s style='top:49.9px'>4.0 kb</b></div>
<div class=n style='left:893px;top:836px;width:107px;height:103px;background:#33cc7e;border-color:#145232'><b style='top:2.9px'>getlinks.js</b><b class=s style='top:49.9px'>3.5 kb</b></div>
<div class=n style='left:999px;top:836px;width:88px;height:103px;background:#37cd89;border-color:#165237'><b style='top:2.9px'>tracksal...</b><b class=s style='top:49.9px'>2.8 kb</b></div>
<div class=n style='left:768px;top:938px;width:87px;height:91px;background:#3bce93;border-color:#18523b'><b style='top:3.4px'>updatet...</b><b class=s style='top:43.8px'>2.4 kb</b></div>
<div class=n style='left:768px;top:1028px;width:87px;height:89px;background:#3fcf9b;border-color:#19533e'><b style='top:2.8px'>tracklea...</b><b class=s style='top:42.8px'>2.4 kb</b></div>
<div class=n style='left:768px;top:1116px;width:87px;height:81px;background:#43d0a3;border-color:#1b5341'><b style='top:3.5px'>updated...</b><b class=s style='top:39.0px'>2.2 kb</b></div>
<div class=n style='left:854px;top:938px;width:82px;height:83px;background:#46d1aa;border-color:#1c5444'><b style='top:3.4px'>trackcu...</b><b class=s style='top:39.9px'>2.1 kb</b></div>
<div class=n style='left:935px;top:938px;width:78px;height:83px;background:#49d2b1;border-color:#1d5447'><b style='top:3.4px'>update...</b><b class=s style='top:39.9px'>2.0 kb</b></div>
<div class=n style='left:1012px;top:938px;width:75px;height:83px;background:#4cd2b7;border-color:#1e5449'><b style='top:3.4px'>listdo...</b><b class=s style='top:39.9px'>1.9 kb</b></div>
<div class=n style='left:854px;top:1020px;width:63px;height:91px;background:#4fd3bd;border-color:#20544c'><b style='top:3.0px'>getqr...</b><b class=s style='top:43.7px'>1.8 k...</b></div>
<div class=n style='left:916px;top:1020px;width:89px;height:61px;background:#51d4c2;border-color:#20554e'><b style='top:3.0px'>createta...</b><b class=s style='top:28.7px'>1.7 kb</b></div>
<div class=n style='left:854px;top:1110px;width:63px;height:87px;background:#54d4c7;border-color:#225550'><b style='top:2.9px'>getm...</b><b class=s style='top:41.7px'>1.7 k...</b></div>
<div class=n style='left:1004px;top:1020px;width:83px;height:61px;background:#56d5cb;border-color:#225551'><b style='top:3.0px'>deleted...</b><b class=s style='top:28.7px'>1.5 kb</b></div>
<div class=n style='left:916px;top:1080px;width:83px;height:60px;background:#58d5cf;border-color:#235553'><b style='top:2.9px'>deleteli...</b><b class=s style='top:28.0px'>1.5 kb</b></div>
<div class=n style='left:916px;top:1139px;width:83px;height:58px;background:#5ad6d3;border-color:#245654'><b style='top:2.7px'>created...</b><b class=s style='top:27.1px'>1.5 kb</b></div>
<div class=n style='left:998px;top:1080px;width:89px;height:48px;background:#5cd6d6;border-color:#255656'><b style='top:2.9px'>getlinkinf...</b><b class=s style='top:22.3px'>1.3 kb</b></div>
<div class=n style='left:998px;top:1127px;width:53px;height:70px;background:#5ed3d7;border-color:#265456'><b style='top:3.3px'>get...</b><b class=s style='top:33.3px'>1.1 ...</b></div>
<div class=n style='left:1050px;top:1127px;width:37px;height:70px;background:#5fd2d7;border-color:#265456'><b style='top:3.3px'>in...</b><b class=s style='top:33.3px'>7...</b></div>
<div class=n style='left:645px;top:1201px;width:447px;height:195px;background:#6fbcdb;border-color:#2c4b58'><b style='top:2.7px'>errors/<i> – 25.3 kb</i></b></div>
<div class=n style='left:649px;top:1224px;width:95px;height:86px;background:#62ced8;border-color:#275256'><b style='top:3.4px'>unproces...</b><b class=s style='top:41.5px'>2.8 kb</b></div>
<div class=n style='left:743px;top:1224px;width:90px;height:88px;background:#65c9d9;border-color:#285057'><b style='top:3.4px'>ratelimite...</b><b class=s style='top:42.3px'>2.7 kb</b></div>
<div class=n style='left:649px;top:1309px;width:95px;height:82px;background:#68c5d9;border-color:#2a4f57'><b style='top:3.1px'>internalse...</b><b class=s style='top:39.5px'>2.7 kb</b></div>
<div class=n style='left:832px;top:1224px;width:84px;height:87px;background:#6bc1da;border-color:#2b4d57'><b style='top:3.4px'>inviteex...</b><b class=s style='top:41.9px'>2.5 kb</b></div>
<div class=n style='left:743px;top:1311px;width:90px;height:80px;background:#6ebddb;border-color:#2c4c58'><b style='top:2.8px'>unauthor...</b><b class=s style='top:38.3px'>2.5 kb</b></div>
<div class=n style='left:915px;top:1224px;width:81px;height:84px;background:#71b9db;border-color:#2d4a58'><b style='top:3.4px'>notfoun...</b><b class=s style='top:40.7px'>2.3 kb</b></div>
<div class=n style='left:832px;top:1310px;width:84px;height:81px;background:#73b6dc;border-color:#2e4958'><b style='top:3.0px'>forbidde...</b><b class=s style='top:39.0px'>2.3 kb</b></div>
<div class=n style='left:915px;top:1307px;width:81px;height:84px;background:#75b3dd;border-color:#2f4858'><b style='top:3.6px'>conflict....</b><b class=s style='top:40.8px'>2.3 kb</b></div>
<div class=n style='left:995px;top:1224px;width:92px;height:69px;background:#77b0dd;border-color:#304658'><b style='top:3.4px'>badreque...</b><b class=s style='top:33.0px'>2.2 kb</b></div>
<div class=n style='left:995px;top:1292px;width:92px;height:67px;background:#79adde;border-color:#304559'><b style='top:3.2px'>sdkvalida...</b><b class=s style='top:32.1px'>2.1 kb</b></div>
<div class=n style='left:995px;top:1358px;width:58px;height:33px;background:#7aabde;border-color:#314459'><b style='top:3.5px'>inde...</b></div>
<div class=n style='left:1052px;top:1358px;width:35px;height:33px;background:#7baade;border-color:#314459'><b style='top:3.5px'>s...</b></div>
<div class=n style='left:1095px;top:668px;width:339px;height:490px;background:#848ae0;border-color:#35375a'><b style='top:3.2px'>sdk/<i> – 45.7 kb</i></b></div>
<div class=n style='left:1100px;top:692px;width:221px;height:220px;background:#7fa0df;border-color:#334059'><b style='top:3.0px'>links.js</b><b class=s style='top:108.2px'>14.5 kb</b></div>
<div class=n style='left:1320px;top:692px;width:109px;height:220px;background:#8491e0;border-color:#353a5a'><b style='top:3.0px'>domains.js</b><b class=s style='top:108.2px'>7.2 kb</b></div>
<div class=n style='left:1100px;top:911px;width:148px;height:124px;background:#8587e0;border-color:#35365a'><b style='top:3.0px'>track.js</b><b class=s style='top:60.0px'>5.4 kb</b></div>
<div class=n style='left:1100px;top:1034px;width:148px;height:119px;background:#8b84e0;border-color:#38355a'><b style='top:2.7px'>tags.js</b><b class=s style='top:57.8px'>5.3 kb</b></div>
<div class=n style='left:1247px;top:911px;width:108px;height:126px;background:#9283e0;border-color:#3a345a'><b style='top:3.0px'>workspace...</b><b class=s style='top:61.4px'>4.1 kb</b></div>
<div class=n style='left:1354px;top:911px;width:75px;height:126px;background:#9782e0;border-color:#3c345a'><b style='top:3.0px'>analyti...</b><b class=s style='top:61.4px'>2.8 kb</b></div>
<div class=n style='left:1247px;top:1036px;width:73px;height:117px;background:#9b81e0;border-color:#3e345a'><b style='top:3.4px'>qrcode...</b><b class=s style='top:57.1px'>2.6 kb</b></div>
<div class=n style='left:1319px;top:1036px;width:110px;height:61px;background:#9e80df;border-color:#3f3359'><b style='top:3.4px'>metatags.js</b><b class=s style='top:29.0px'>1.9 kb</b></div>
<div class=n style='left:1319px;top:1096px;width:80px;height:57px;background:#a07fdf;border-color:#403359'><b style='top:3.2px'>sdk.js</b><b class=s style='top:27.0px'>1.3 kb</b></div>
<div class=n style='left:1398px;top:1096px;width:31px;height:57px;background:#a27fdf;border-color:#413359'><b style='top:3.2px'>i...</b><b class=s style='top:27.0px'>...</b></div>
<div class=n style='left:1095px;top:1157px;width:292px;height:243px;background:#af76df;border-color:#462f59'><b style='top:3.2px'>lib/<i> – 19.6 kb</i></b></div>
<div class=n style='left:1100px;top:1181px;width:136px;height:111px;background:#a57ddf;border-color:#423259'><b style='top:2.8px'>http.js</b><b class=s style='top:53.8px'>4.9 kb</b></div>
<div class=n style='left:1100px;top:1291px;width:136px;height:105px;background:#ac7ade;border-color:#453159'><b style='top:3.3px'>encodings.js</b><b class=s style='top:50.7px'>4.6 kb</b></div>
<div class=n style='left:1235px;top:1181px;width:80px;height:102px;background:#b174df;border-color:#472e59'><b style='top:2.8px'>sdks.js</b><b class=s style='top:49.2px'>2.6 kb</b></div>
<div class=n style='left:1314px;top:1181px;width:69px;height:102px;background:#b570e0;border-color:#482d5a'><b style='top:2.8px'>retries...</b><b class=s style='top:49.2px'>2.2 kb</b></div>
<div class=n style='left:1235px;top:1282px;width:90px;height:66px;background:#b86de1;border-color:#4a2c5a'><b style='top:3.2px'>security.j...</b><b class=s style='top:31.2px'>1.9 kb</b></div>
<div class=n style='left:1235px;top:1347px;width:90px;height:49px;background:#bc6ae2;border-color:#4b2a5a'><b style='top:2.8px'>base64.j...</b><b class=s style='top:22.5px'>1.4 kb</b></div>
<div class=n style='left:1324px;top:1282px;width:59px;height:33px;background:#be68e3;border-color:#4c2a5b'><b style='top:3.2px'>confi...</b></div>
<div class=n style='left:1324px;top:1314px;width:31px;height:52px;background:#bf67e3;border-color:#4c295b'><b style='top:3.4px'>...</b><b class=s style='top:24.4px'>...</b></div>
<div class=n style='left:1354px;top:1314px;width:29px;height:52px;background:#c066e3;border-color:#4d295b'><b style='top:3.4px'>...</b><b class=s style='top:24.4px'>...</b></div>
<div class=n style='left:1324px;top:1365px;width:35px;height:31px;background:#c165e3;border-color:#4d285b'><b style='top:2.9px'>i...</b></div>
<div class=n style='left:1358px;top:1365px;width:25px;height:31px;background:#c265e3;border-color:#4e285b'><b style='top:2.9px'>...</b></div>
<div class=n style='left:1386px;top:1157px;width:48px;height:180px;background:#c463e4;border-color:#4e285b'><b style='top:3.2px'>ho...</b></div>
<div class=n style='left:1391px;top:1180px;width:38px;height:75px;background:#c264e4;border-color:#4e285b'><b style='top:3.3px'>h...</b><b class=s style='top:35.8px'>1....</b></div>
<div class=n style='left:1391px;top:1254px;width:38px;height:36px;background:#c463e4;border-color:#4e285b'><b style='top:3.0px'>a...</b></div>
<div class=n style='left:1391px;top:1289px;width:38px;height:28px;background:#c562e4;border-color:#4f275b'><b style='top:2.8px'>b...</b></div>
<div class=n style='left:1391px;top:1316px;width:38px;height:16px;background:#c661e4;border-color:#4f275b'></div>
<div class=n style='left:1386px;top:1336px;width:48px;height:44px;background:#c760e5;border-color:#50265c'><b style='top:3.0px'>ind...</b></div>
<div class=n style='left:1386px;top:1379px;width:48px;height:21px;background:#c860e5;border-color:#50265c'></div>
<div class=n style='left:1442px;top:622px;width:329px;height:779px;background:#f5169f;border-color:#620940'><b style='top:3.2px'>../<i> – 64.9 kb</i></b></div>
<div class=n style='left:1446px;top:645px;width:320px;height:752px;background:#f5169f;border-color:#620940'><b style='top:3.3px'>../<i> – 64.9 kb</i></b></div>
<div class=n style='left:1451px;top:668px;width:311px;height:724px;background:#f5169f;border-color:#620940'><b style='top:3.3px'>../<i> – 64.9 kb</i></b></div>
<div class=n style='left:1456px;top:691px;width:301px;height:697px;background:#f5169f;border-color:#620940'><b style='top:3.4px'>github.com/<i> – 64.9 kb</i></b></div>
<div class=n style='left:1460px;top:714px;width:293px;height:669px;background:#f5169f;border-color:#620940'><b style='top:3.5px'>disintegrator/<i> – 64.9 kb</i></b></div>
<div class=n style='left:1465px;top:737px;width:283px;height:641px;background:#f5169f;border-color:#620940'><b style='top:3.6px'>zod/<i> – 64.9 kb</i></b></div>
<div class=n style='left:1469px;top:761px;width:274px;height:613px;background:#f5169f;border-color:#620940'><b style='top:2.7px'>lib/<i> – 64.9 kb</i></b></div>
<div class=n style='left:1474px;top:784px;width:265px;height:486px;background:#f323b7;border-color:#610e49'><b style='top:2.8px'>types.js</b><b class=s style='top:241.1px'>53.9 kb</b></div>
<div class=n style='left:1474px;top:1269px;width:106px;height:100px;background:#fe012d;border-color:#660012'><b style='top:2.9px'>helpers/<i> – ...</i></b></div>
<div class=n style='left:1479px;top:1292px;width:46px;height:73px;background:#fe0133;border-color:#660014'><b style='top:3.0px'>util...</b><b class=s style='top:34.6px'>2....</b></div>
<div class=n style='left:1524px;top:1292px;width:52px;height:62px;background:#fe0129;border-color:#660010'><b style='top:3.0px'>par...</b><b class=s style='top:29.2px'>2.0 ...</b></div>
<div class=n style='left:1524px;top:1353px;width:41px;height:12px;background:#fe0124;border-color:#66000e'></div>
<div class=n style='left:1564px;top:1353px;width:12px;height:12px;background:#fe0123;border-color:#66000e'></div>
<div class=n style='left:1579px;top:1269px;width:77px;height:100px;background:#ff001b;border-color:#66000b'><b style='top:2.9px'>locales...</b></div>
<div class=n style='left:1584px;top:1292px;width:68px;height:73px;background:#ff001b;border-color:#66000b'><b style='top:3.0px'>en.js</b><b class=s style='top:34.6px'>3.2 kb</b></div>
<div class=n style='left:1655px;top:1269px;width:84px;height:54px;background:#ff000f;border-color:#660006'><b style='top:2.9px'>ZodErro...</b><b class=s style='top:25.2px'>1.8 kb</b></div>
<div class=n style='left:1655px;top:1322px;width:42px;height:47px;background:#ff0009;border-color:#660004'><b style='top:3.0px'>in...</b></div>
<div class=n style='left:1696px;top:1322px;width:43px;height:27px;background:#ff0006;border-color:#660002'><b style='top:3.0px'>ex...</b></div>
<div class=n style='left:1696px;top:1348px;width:43px;height:21px;background:#ff0004;border-color:#660002'></div>
<div class=n style='left:1442px;top:1400px;width:55px;height:10px;background:#ff0002;border-color:#660001'></div>
<div class=n style='left:1496px;top:1400px;width:275px;height:10px;background:#58d6d6;border-color:#235656'></div>
</body>
</html>
